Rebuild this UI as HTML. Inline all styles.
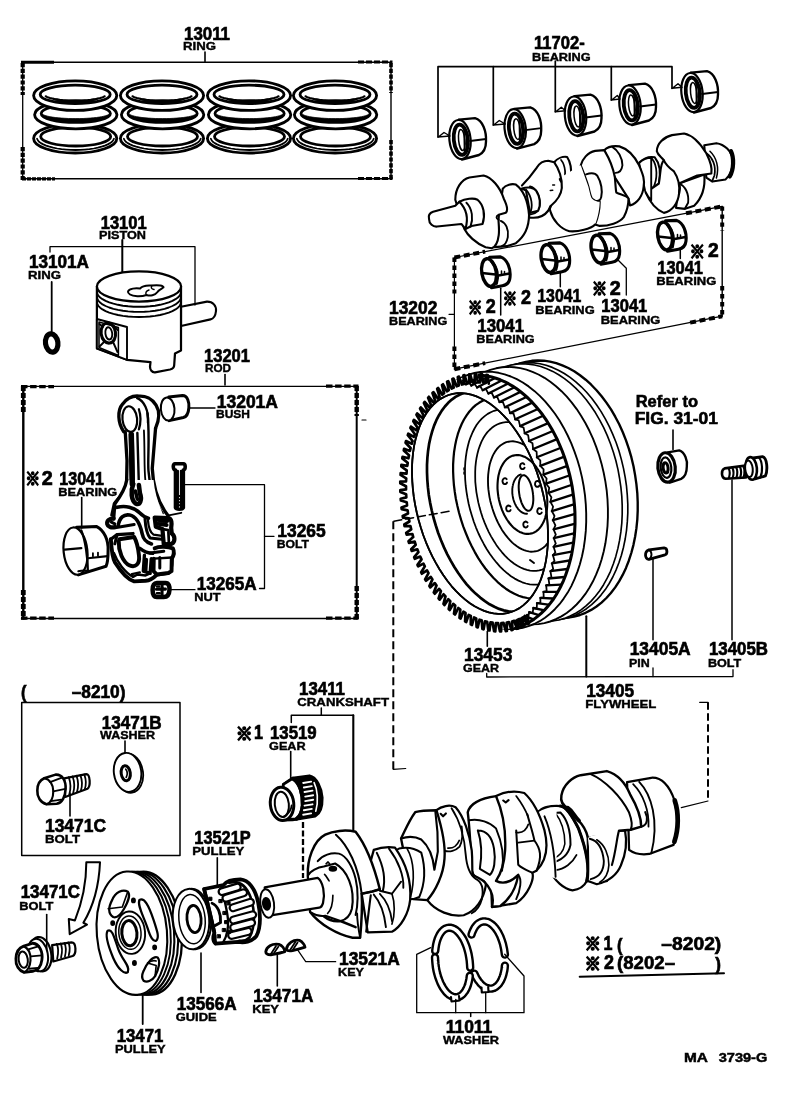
<!DOCTYPE html>
<html lang="en"><head><meta charset="utf-8"><title>Piston, Crankshaft &amp; Flywheel parts diagram</title>
<style>
html,body{margin:0;padding:0;background:#fff;}
body{width:792px;height:1106px;overflow:hidden;}
svg{display:block;filter:grayscale(1);}
svg text{font-family:"Liberation Sans", "Noto Sans CJK JP", sans-serif;font-weight:700;fill:#000;stroke:#000;stroke-width:0.35px;}
svg path,svg ellipse,svg line,svg circle,svg rect,svg polyline{stroke:#000;stroke-linecap:round;stroke-linejoin:round;vector-effect:non-scaling-stroke;}
</style></head><body>
<svg width="792" height="1106" viewBox="0 0 792 1106" fill="none">
<rect x="0" y="0" width="792" height="1106" fill="#fff" style="stroke:none"/>
<path d="M22.7 62.3 L391.0 62.3" stroke-width="1.5" />
<path d="M22.7 178.8 L391.0 178.8" stroke-width="1.4" />
<path d="M22.7 62.3 L22.7 178.8" stroke-width="1.3" />
<path d="M391.0 62.3 L391.0 178.8" stroke-width="1.4" />
<path d="M21.0 62.3 L54.0 62.3" stroke-width="3" style="stroke-linecap:butt"/>
<path d="M22.0 178.8 L55.0 178.8" stroke-width="3.2" stroke-dasharray="4 1" style="stroke-linecap:butt"/>
<path d="M358.0 62.0 L392.5 62.0" stroke-width="3" stroke-dasharray="6 2" style="stroke-linecap:butt"/>
<path d="M358.0 178.6 L392.5 178.6" stroke-width="3" stroke-dasharray="6 2" style="stroke-linecap:butt"/>
<path d="M22.7 63.0 L22.7 95.0" stroke-width="4.2" stroke-dasharray="4.2 1.6" style="stroke-linecap:butt"/>
<path d="M22.7 147.0 L22.7 180.0" stroke-width="4.2" stroke-dasharray="4.2 1.6" style="stroke-linecap:butt"/>
<path d="M391.0 63.0 L391.0 93.0" stroke-width="3.6" stroke-dasharray="4.2 1.6" style="stroke-linecap:butt"/>
<path d="M391.0 140.0 L391.0 179.0" stroke-width="3.6" stroke-dasharray="4.2 1.6" style="stroke-linecap:butt"/>
<path d="M33.6 138.4A41.6 14.6 0 1 0 116.8 138.4A41.6 14.6 0 1 0 33.6 138.4ZM40.7 136.6A35.0 9.4 0 1 0 110.7 136.6A35.0 9.4 0 1 0 40.7 136.6Z" stroke-width="2.83" fill="#fff" fill-rule="evenodd"/>
<path d="M114.0 138.7 L113.2 140.2 L112.0 141.7 L110.1 143.1 L107.7 144.4 L104.9 145.6 L101.6 146.7 L97.9 147.7 L93.8 148.5 L89.5 149.2 L84.9 149.6 L80.3 149.9 L75.5 150.0 L70.7 149.9 L66.1 149.6 L61.5 149.2 L57.2 148.5 L53.1 147.7 L49.4 146.7 L46.1 145.6 L43.3 144.4 L40.9 143.1 L39.0 141.7 L37.8 140.2 L37.0 138.7" stroke-width="1.77" fill="none" />
<path d="M34.6 114.8A41.2 14.0 0 1 0 117.0 114.8A41.2 14.0 0 1 0 34.6 114.8ZM41.2 113.4A34.6 9.0 0 1 0 110.4 113.4A34.6 9.0 0 1 0 41.2 113.4Z" stroke-width="2.83" fill="#fff" fill-rule="evenodd"/>
<path d="M108.3 115.5 L107.2 116.4 L105.7 117.3 L103.9 118.1 L101.7 118.9 L99.2 119.6 L96.4 120.2 L93.4 120.7 L90.1 121.2 L86.7 121.5 L83.1 121.8 L79.5 121.9 L75.8 122.0 L72.1 121.9 L68.5 121.8 L64.9 121.5 L61.5 121.2 L58.2 120.7 L55.2 120.2 L52.4 119.6 L49.9 118.9 L47.7 118.1 L45.9 117.3 L44.4 116.4 L43.3 115.5 L43.3 114.7 L44.4 115.2 L45.9 115.7 L47.7 116.2 L49.9 116.7 L52.4 117.1 L55.2 117.5 L58.2 117.8 L61.5 118.1 L64.9 118.3 L68.5 118.5 L72.1 118.6 L75.8 118.6 L79.5 118.6 L83.1 118.5 L86.7 118.3 L90.1 118.1 L93.4 117.8 L96.4 117.5 L99.2 117.1 L101.7 116.7 L103.9 116.2 L105.7 115.7 L107.2 115.2 L108.3 114.7Z" fill="#000" stroke-width="0.8"/>
<path d="M33.6 95.6A41.6 14.8 0 1 0 116.8 95.6A41.6 14.8 0 1 0 33.6 95.6ZM40.2 94.4A35.0 9.2 0 1 0 110.2 94.4A35.0 9.2 0 1 0 40.2 94.4Z" stroke-width="2.83" fill="#fff" fill-rule="evenodd"/>
<path d="M104.7 96.3 L103.5 96.9 L102.0 97.5 L100.3 98.0 L98.2 98.5 L95.9 99.0 L93.4 99.4 L90.7 99.8 L87.8 100.1 L84.8 100.3 L81.6 100.5 L78.4 100.6 L75.2 100.6 L72.0 100.6 L68.8 100.5 L65.6 100.3 L62.6 100.1 L59.7 99.8 L57.0 99.4 L54.5 99.0 L52.2 98.5 L50.1 98.0 L48.4 97.5 L46.9 96.9 L45.7 96.3" stroke-width="2.12" fill="none" />
<path d="M97.3 99.4 L96.0 100.0 L94.6 100.5 L93.0 100.9 L91.3 101.3 L89.5 101.7 L87.7 102.1 L85.7 102.3 L83.7 102.6 L81.6 102.8 L79.5 102.9 L77.4 103.0 L75.2 103.0 L73.0 103.0 L70.9 102.9 L68.8 102.8 L66.7 102.6 L64.7 102.3 L62.7 102.1 L60.9 101.7 L59.1 101.3 L57.4 100.9 L55.8 100.5 L54.4 100.0 L53.1 99.4 L53.1 98.2 L54.4 98.6 L55.8 98.9 L57.4 99.3 L59.1 99.6 L60.9 99.9 L62.7 100.1 L64.7 100.3 L66.7 100.5 L68.8 100.6 L70.9 100.7 L73.0 100.8 L75.2 100.8 L77.4 100.8 L79.5 100.7 L81.6 100.6 L83.7 100.5 L85.7 100.3 L87.7 100.1 L89.5 99.9 L91.3 99.6 L93.0 99.3 L94.6 98.9 L96.0 98.6 L97.3 98.2Z" fill="#000" stroke-width="0.8"/>
<path d="M120.4 138.4A41.6 14.6 0 1 0 203.6 138.4A41.6 14.6 0 1 0 120.4 138.4ZM127.5 136.6A35.0 9.4 0 1 0 197.5 136.6A35.0 9.4 0 1 0 127.5 136.6Z" stroke-width="2.83" fill="#fff" fill-rule="evenodd"/>
<path d="M200.8 138.7 L200.0 140.2 L198.8 141.7 L196.9 143.1 L194.5 144.4 L191.7 145.6 L188.4 146.7 L184.7 147.7 L180.6 148.5 L176.3 149.2 L171.7 149.6 L167.1 149.9 L162.3 150.0 L157.5 149.9 L152.9 149.6 L148.3 149.2 L144.0 148.5 L139.9 147.7 L136.2 146.7 L132.9 145.6 L130.1 144.4 L127.7 143.1 L125.8 141.7 L124.6 140.2 L123.8 138.7" stroke-width="1.77" fill="none" />
<path d="M121.4 114.8A41.2 14.0 0 1 0 203.8 114.8A41.2 14.0 0 1 0 121.4 114.8ZM128.0 113.4A34.6 9.0 0 1 0 197.2 113.4A34.6 9.0 0 1 0 128.0 113.4Z" stroke-width="2.83" fill="#fff" fill-rule="evenodd"/>
<path d="M195.1 115.5 L194.0 116.4 L192.5 117.3 L190.7 118.1 L188.5 118.9 L186.0 119.6 L183.2 120.2 L180.2 120.7 L176.9 121.2 L173.5 121.5 L169.9 121.8 L166.3 121.9 L162.6 122.0 L158.9 121.9 L155.3 121.8 L151.7 121.5 L148.3 121.2 L145.0 120.7 L142.0 120.2 L139.2 119.6 L136.7 118.9 L134.5 118.1 L132.7 117.3 L131.2 116.4 L130.1 115.5 L130.1 114.7 L131.2 115.2 L132.7 115.7 L134.5 116.2 L136.7 116.7 L139.2 117.1 L142.0 117.5 L145.0 117.8 L148.3 118.1 L151.7 118.3 L155.3 118.5 L158.9 118.6 L162.6 118.6 L166.3 118.6 L169.9 118.5 L173.5 118.3 L176.9 118.1 L180.2 117.8 L183.2 117.5 L186.0 117.1 L188.5 116.7 L190.7 116.2 L192.5 115.7 L194.0 115.2 L195.1 114.7Z" fill="#000" stroke-width="0.8"/>
<path d="M120.4 95.6A41.6 14.8 0 1 0 203.6 95.6A41.6 14.8 0 1 0 120.4 95.6ZM127.0 94.4A35.0 9.2 0 1 0 197.0 94.4A35.0 9.2 0 1 0 127.0 94.4Z" stroke-width="2.83" fill="#fff" fill-rule="evenodd"/>
<path d="M191.5 96.3 L190.3 96.9 L188.8 97.5 L187.1 98.0 L185.0 98.5 L182.7 99.0 L180.2 99.4 L177.5 99.8 L174.6 100.1 L171.6 100.3 L168.4 100.5 L165.2 100.6 L162.0 100.6 L158.8 100.6 L155.6 100.5 L152.4 100.3 L149.4 100.1 L146.5 99.8 L143.8 99.4 L141.3 99.0 L139.0 98.5 L136.9 98.0 L135.2 97.5 L133.7 96.9 L132.5 96.3" stroke-width="2.12" fill="none" />
<path d="M184.1 99.4 L182.8 100.0 L181.4 100.5 L179.8 100.9 L178.1 101.3 L176.3 101.7 L174.5 102.1 L172.5 102.3 L170.5 102.6 L168.4 102.8 L166.3 102.9 L164.2 103.0 L162.0 103.0 L159.8 103.0 L157.7 102.9 L155.6 102.8 L153.5 102.6 L151.5 102.3 L149.5 102.1 L147.7 101.7 L145.9 101.3 L144.2 100.9 L142.6 100.5 L141.2 100.0 L139.9 99.4 L139.9 98.2 L141.2 98.6 L142.6 98.9 L144.2 99.3 L145.9 99.6 L147.7 99.9 L149.5 100.1 L151.5 100.3 L153.5 100.5 L155.6 100.6 L157.7 100.7 L159.8 100.8 L162.0 100.8 L164.2 100.8 L166.3 100.7 L168.4 100.6 L170.5 100.5 L172.5 100.3 L174.5 100.1 L176.3 99.9 L178.1 99.6 L179.8 99.3 L181.4 98.9 L182.8 98.6 L184.1 98.2Z" fill="#000" stroke-width="0.8"/>
<path d="M207.4 138.4A41.6 14.6 0 1 0 290.6 138.4A41.6 14.6 0 1 0 207.4 138.4ZM214.5 136.6A35.0 9.4 0 1 0 284.5 136.6A35.0 9.4 0 1 0 214.5 136.6Z" stroke-width="2.83" fill="#fff" fill-rule="evenodd"/>
<path d="M287.8 138.7 L287.0 140.2 L285.8 141.7 L283.9 143.1 L281.5 144.4 L278.7 145.6 L275.4 146.7 L271.7 147.7 L267.6 148.5 L263.3 149.2 L258.7 149.6 L254.1 149.9 L249.3 150.0 L244.5 149.9 L239.9 149.6 L235.3 149.2 L231.0 148.5 L226.9 147.7 L223.2 146.7 L219.9 145.6 L217.1 144.4 L214.7 143.1 L212.8 141.7 L211.6 140.2 L210.8 138.7" stroke-width="1.77" fill="none" />
<path d="M208.4 114.8A41.2 14.0 0 1 0 290.8 114.8A41.2 14.0 0 1 0 208.4 114.8ZM215.0 113.4A34.6 9.0 0 1 0 284.2 113.4A34.6 9.0 0 1 0 215.0 113.4Z" stroke-width="2.83" fill="#fff" fill-rule="evenodd"/>
<path d="M282.1 115.5 L281.0 116.4 L279.5 117.3 L277.7 118.1 L275.5 118.9 L273.0 119.6 L270.2 120.2 L267.2 120.7 L263.9 121.2 L260.5 121.5 L256.9 121.8 L253.3 121.9 L249.6 122.0 L245.9 121.9 L242.3 121.8 L238.7 121.5 L235.3 121.2 L232.0 120.7 L229.0 120.2 L226.2 119.6 L223.7 118.9 L221.5 118.1 L219.7 117.3 L218.2 116.4 L217.1 115.5 L217.1 114.7 L218.2 115.2 L219.7 115.7 L221.5 116.2 L223.7 116.7 L226.2 117.1 L229.0 117.5 L232.0 117.8 L235.3 118.1 L238.7 118.3 L242.3 118.5 L245.9 118.6 L249.6 118.6 L253.3 118.6 L256.9 118.5 L260.5 118.3 L263.9 118.1 L267.2 117.8 L270.2 117.5 L273.0 117.1 L275.5 116.7 L277.7 116.2 L279.5 115.7 L281.0 115.2 L282.1 114.7Z" fill="#000" stroke-width="0.8"/>
<path d="M207.4 95.6A41.6 14.8 0 1 0 290.6 95.6A41.6 14.8 0 1 0 207.4 95.6ZM214.0 94.4A35.0 9.2 0 1 0 284.0 94.4A35.0 9.2 0 1 0 214.0 94.4Z" stroke-width="2.83" fill="#fff" fill-rule="evenodd"/>
<path d="M278.5 96.3 L277.3 96.9 L275.8 97.5 L274.1 98.0 L272.0 98.5 L269.7 99.0 L267.2 99.4 L264.5 99.8 L261.6 100.1 L258.6 100.3 L255.4 100.5 L252.2 100.6 L249.0 100.6 L245.8 100.6 L242.6 100.5 L239.4 100.3 L236.4 100.1 L233.5 99.8 L230.8 99.4 L228.3 99.0 L226.0 98.5 L223.9 98.0 L222.2 97.5 L220.7 96.9 L219.5 96.3" stroke-width="2.12" fill="none" />
<path d="M271.1 99.4 L269.8 100.0 L268.4 100.5 L266.8 100.9 L265.1 101.3 L263.3 101.7 L261.5 102.1 L259.5 102.3 L257.5 102.6 L255.4 102.8 L253.3 102.9 L251.2 103.0 L249.0 103.0 L246.8 103.0 L244.7 102.9 L242.6 102.8 L240.5 102.6 L238.5 102.3 L236.5 102.1 L234.7 101.7 L232.9 101.3 L231.2 100.9 L229.6 100.5 L228.2 100.0 L226.9 99.4 L226.9 98.2 L228.2 98.6 L229.6 98.9 L231.2 99.3 L232.9 99.6 L234.7 99.9 L236.5 100.1 L238.5 100.3 L240.5 100.5 L242.6 100.6 L244.7 100.7 L246.8 100.8 L249.0 100.8 L251.2 100.8 L253.3 100.7 L255.4 100.6 L257.5 100.5 L259.5 100.3 L261.5 100.1 L263.3 99.9 L265.1 99.6 L266.8 99.3 L268.4 98.9 L269.8 98.6 L271.1 98.2Z" fill="#000" stroke-width="0.8"/>
<path d="M293.4 138.4A41.6 14.6 0 1 0 376.6 138.4A41.6 14.6 0 1 0 293.4 138.4ZM300.5 136.6A35.0 9.4 0 1 0 370.5 136.6A35.0 9.4 0 1 0 300.5 136.6Z" stroke-width="2.83" fill="#fff" fill-rule="evenodd"/>
<path d="M373.8 138.7 L373.0 140.2 L371.8 141.7 L369.9 143.1 L367.5 144.4 L364.7 145.6 L361.4 146.7 L357.7 147.7 L353.6 148.5 L349.3 149.2 L344.7 149.6 L340.1 149.9 L335.3 150.0 L330.5 149.9 L325.9 149.6 L321.3 149.2 L317.0 148.5 L312.9 147.7 L309.2 146.7 L305.9 145.6 L303.1 144.4 L300.7 143.1 L298.8 141.7 L297.6 140.2 L296.8 138.7" stroke-width="1.77" fill="none" />
<path d="M294.4 114.8A41.2 14.0 0 1 0 376.8 114.8A41.2 14.0 0 1 0 294.4 114.8ZM301.0 113.4A34.6 9.0 0 1 0 370.2 113.4A34.6 9.0 0 1 0 301.0 113.4Z" stroke-width="2.83" fill="#fff" fill-rule="evenodd"/>
<path d="M368.1 115.5 L367.0 116.4 L365.5 117.3 L363.7 118.1 L361.5 118.9 L359.0 119.6 L356.2 120.2 L353.2 120.7 L349.9 121.2 L346.5 121.5 L342.9 121.8 L339.3 121.9 L335.6 122.0 L331.9 121.9 L328.3 121.8 L324.7 121.5 L321.3 121.2 L318.0 120.7 L315.0 120.2 L312.2 119.6 L309.7 118.9 L307.5 118.1 L305.7 117.3 L304.2 116.4 L303.1 115.5 L303.1 114.7 L304.2 115.2 L305.7 115.7 L307.5 116.2 L309.7 116.7 L312.2 117.1 L315.0 117.5 L318.0 117.8 L321.3 118.1 L324.7 118.3 L328.3 118.5 L331.9 118.6 L335.6 118.6 L339.3 118.6 L342.9 118.5 L346.5 118.3 L349.9 118.1 L353.2 117.8 L356.2 117.5 L359.0 117.1 L361.5 116.7 L363.7 116.2 L365.5 115.7 L367.0 115.2 L368.1 114.7Z" fill="#000" stroke-width="0.8"/>
<path d="M293.4 95.6A41.6 14.8 0 1 0 376.6 95.6A41.6 14.8 0 1 0 293.4 95.6ZM300.0 94.4A35.0 9.2 0 1 0 370.0 94.4A35.0 9.2 0 1 0 300.0 94.4Z" stroke-width="2.83" fill="#fff" fill-rule="evenodd"/>
<path d="M364.5 96.3 L363.3 96.9 L361.8 97.5 L360.1 98.0 L358.0 98.5 L355.7 99.0 L353.2 99.4 L350.5 99.8 L347.6 100.1 L344.6 100.3 L341.4 100.5 L338.2 100.6 L335.0 100.6 L331.8 100.6 L328.6 100.5 L325.4 100.3 L322.4 100.1 L319.5 99.8 L316.8 99.4 L314.3 99.0 L312.0 98.5 L309.9 98.0 L308.2 97.5 L306.7 96.9 L305.5 96.3" stroke-width="2.12" fill="none" />
<path d="M357.1 99.4 L355.8 100.0 L354.4 100.5 L352.8 100.9 L351.1 101.3 L349.3 101.7 L347.5 102.1 L345.5 102.3 L343.5 102.6 L341.4 102.8 L339.3 102.9 L337.2 103.0 L335.0 103.0 L332.8 103.0 L330.7 102.9 L328.6 102.8 L326.5 102.6 L324.5 102.3 L322.5 102.1 L320.7 101.7 L318.9 101.3 L317.2 100.9 L315.6 100.5 L314.2 100.0 L312.9 99.4 L312.9 98.2 L314.2 98.6 L315.6 98.9 L317.2 99.3 L318.9 99.6 L320.7 99.9 L322.5 100.1 L324.5 100.3 L326.5 100.5 L328.6 100.6 L330.7 100.7 L332.8 100.8 L335.0 100.8 L337.2 100.8 L339.3 100.7 L341.4 100.6 L343.5 100.5 L345.5 100.3 L347.5 100.1 L349.3 99.9 L351.1 99.6 L352.8 99.3 L354.4 98.9 L355.8 98.6 L357.1 98.2Z" fill="#000" stroke-width="0.8"/>
<ellipse cx="51.7" cy="343.0" rx="6.2" ry="9.2" stroke-width="5.19" fill="none" transform="rotate(-8 51.7 343.0)"/>
<path d="M181 306.7 L207 301.6 C213 301.5 216.5 306 216 311 C215.5 316 213.5 318.8 210.5 319.4 L181 326 Z" stroke-width="2.12" fill="#fff" />
<path d="M96.9 286.5 L96.9 348.4 L127 359.8 L150.5 362.2 L150 366.5 C150 370 152 372.6 155 372.3 L170 369.5 C173 368.8 174.2 367 174.2 365 L175 353.4 L181 350.5 L181 286.5 Z" stroke-width="2.24" fill="#fff" />
<ellipse cx="139.0" cy="286.5" rx="42.1" ry="15.1" stroke-width="2.24" fill="#fff"/>
<path d="M181.1 291.7 L180.7 293.7 L179.7 295.6 L177.9 297.5 L175.5 299.2 L172.4 300.9 L168.8 302.4 L164.6 303.7 L160.1 304.8 L155.1 305.7 L149.9 306.3 L144.5 306.7 L139.0 306.8 L133.5 306.7 L128.1 306.3 L122.9 305.7 L118.0 304.8 L113.4 303.7 L109.2 302.4 L105.6 300.9 L102.5 299.2 L100.1 297.5 L98.3 295.6 L97.3 293.7 L96.9 291.7" stroke-width="1.89" fill="none" />
<path d="M181.1 296.8 L180.7 298.8 L179.7 300.7 L177.9 302.6 L175.5 304.4 L172.4 306.0 L168.8 307.5 L164.6 308.8 L160.1 309.9 L155.1 310.8 L149.9 311.4 L144.5 311.8 L139.0 311.9 L133.5 311.8 L128.1 311.4 L122.9 310.8 L118.0 309.9 L113.4 308.8 L109.2 307.5 L105.6 306.0 L102.5 304.4 L100.1 302.6 L98.3 300.7 L97.3 298.8 L96.9 296.8" stroke-width="1.89" fill="none" />
<path d="M181.1 301.9 L180.7 303.9 L179.7 305.8 L177.9 307.7 L175.5 309.4 L172.4 311.1 L168.8 312.6 L164.6 313.9 L160.1 315.0 L155.1 315.9 L149.9 316.5 L144.5 316.9 L139.0 317.0 L133.5 316.9 L128.1 316.5 L122.9 315.9 L118.0 315.0 L113.4 313.9 L109.2 312.6 L105.6 311.1 L102.5 309.4 L100.1 307.7 L98.3 305.8 L97.3 303.9 L96.9 301.9" stroke-width="1.89" fill="none" />
<path d="M128 291.5 C129 288.5 136 287.8 140 288.6 C142 286 147 285.2 152 285.6 C158 285 164 285.5 163.5 287.5 C161 289 159 289.8 157.5 292 C155 295.5 150 296.2 146.5 295 C141 297 133 296.5 130 294.5 C128.5 293.6 127.8 292.5 128 291.5Z" stroke-width="2.01" fill="none" />
<path d="M146.5 295 C145 293 146 291 149 290 M152 285.6 C150.5 287.5 151.5 289 154 289.5" stroke-width="1.42" fill="none" />
<path d="M96.9 319 L127 327 L127 359.8 L96.9 348.4 Z" stroke-width="1.89" fill="#fff" />
<path d="M99 322 L118.4 327.5 L118.4 355.5 L99 347.5Z" stroke-width="1.53" fill="none" />
<ellipse cx="108.3" cy="333.0" rx="7.2" ry="10.2" stroke-width="3.07" fill="none" transform="rotate(-8 108.3 333.0)"/>
<ellipse cx="108.8" cy="333.4" rx="3.4" ry="6.2" stroke-width="1.89" fill="none" transform="rotate(-8 108.8 333.4)"/>
<path d="M99.5 346.5 L104 342 M99.5 324 L103 327 M117.5 352 L113.5 343 M117.8 330 L114 326" stroke-width="1.89" fill="none" />
<path d="M23.0 386.3 L356.7 386.3" stroke-width="1.3" />
<path d="M23.0 618.4 L356.7 618.4" stroke-width="1.5" />
<path d="M23.3 386.3 L23.3 618.4" stroke-width="2.4" />
<path d="M356.7 386.3 L356.7 618.4" stroke-width="2.0" />
<path d="M21.0 386.6 L54.0 386.6" stroke-width="3.2" stroke-dasharray="6.5 2.6" style="stroke-linecap:butt"/>
<path d="M21.0 618.2 L54.0 618.2" stroke-width="3.2" stroke-dasharray="6.5 2.6" style="stroke-linecap:butt"/>
<path d="M326.0 386.2 L358.5 386.2" stroke-width="3.2" stroke-dasharray="6.5 2.6" style="stroke-linecap:butt"/>
<path d="M326.0 618.2 L358.5 618.2" stroke-width="3.2" stroke-dasharray="6.5 2.6" style="stroke-linecap:butt"/>
<path d="M23.3 386.0 L23.3 412.0" stroke-width="4.8" stroke-dasharray="5 2" style="stroke-linecap:butt"/>
<path d="M23.3 590.0 L23.3 619.5" stroke-width="4.8" stroke-dasharray="5 2" style="stroke-linecap:butt"/>
<path d="M356.7 386.0 L356.7 416.0" stroke-width="4.4" stroke-dasharray="5 2" style="stroke-linecap:butt"/>
<path d="M356.7 586.0 L356.7 619.5" stroke-width="4.4" stroke-dasharray="5 2" style="stroke-linecap:butt"/>
<path d="M362.0 420.0 L366.0 420.0" stroke-width="1.2" />
<g transform="translate(50 385) scale(0.2525)">
<path d="M470 48 L525 42 C545 42 552 70 550 90 C548 115 540 126 528 129 L472 141 Z" stroke-width="3.02" fill="#fff" />
<ellipse cx="466" cy="95" rx="27" ry="46" stroke-width="2" fill="#fff" transform="rotate(-5 466 95)"/>
<path d="M298 185 L305 300 L303 400 C295 430 265 455 255 470 L245 520 L470 520 C430 470 408 400 405 330 L418 170 Z" stroke-width="0.1" fill="#fff" style="stroke:none"/>
<path d="M292 185 C268 150 266 100 288 75 C305 52 330 42 352 44 C378 42 405 55 420 80 C436 106 432 140 418 172" stroke-width="3.32" fill="#fff" />
<ellipse cx="316" cy="135" rx="29" ry="51" stroke-width="2.2" fill="#fff" transform="rotate(-6 316 135)"/>
<path d="M345 52 C372 62 392 100 388 150 M352 96 C360 120 360 150 352 176" stroke-width="2.27" fill="none" />
<path d="M298 185 L305 300 L303 400 C295 430 265 455 255 470 L245 515" stroke-width="3.32" fill="none" />
<path d="M418 172 L405 330 C408 400 430 470 468 518" stroke-width="3.32" fill="none" />
<path d="M322 196 L326 392" stroke-width="5.14" fill="none" />
<path d="M346 190 L352 396" stroke-width="2.42" fill="none" />
<path d="M386 112 C396 200 386 300 390 340 C395 420 420 470 446 508" stroke-width="2.42" fill="none" />
<path d="M372 180 C376 260 372 330 378 380 C384 430 400 470 420 500" stroke-width="1.81" fill="none" />
<path d="M494 312 L528 312 C538 312 538 336 528 337 L528 486 C524 494 500 494 497 486 L497 337 C486 336 486 312 494 312Z" stroke-width="3.62" fill="#fff" />
<path d="M506 340 L506 484 M519 340 L519 484" stroke-width="2.42" fill="none" />
<path d="M497 440 L528 440 M497 452 L528 452 M497 464 L528 464 M497 476 L528 476" stroke-width="1.96" fill="none" />
<path d="M520 506 L470 516" stroke-width="1.81" fill="none" />
</g>
<g transform="translate(100 480) scale(0.1139)">
<path d="M235 0 C225 60 190 130 130 210 L120 340 C70 340 55 400 95 430 L95 520 C100 620 115 700 135 730 C180 800 240 875 300 892 L400 886 C450 880 480 850 500 832 L600 816 C628 800 632 760 632 700 L640 600 L650 520 L625 340 L560 320 C520 220 480 120 470 0 Z" stroke-width="0.1" fill="#fff" style="stroke:none"/>
<path d="M235 0 C225 60 190 130 130 210 L120 340" stroke-width="3.32" fill="none" />
<path d="M120 340 C80 338 58 360 64 388 C70 412 100 424 132 412" stroke-width="4.23" fill="none" />
<path d="M100 370 L130 385" stroke-width="3.02" fill="none" />
<path d="M150 240 C220 222 300 238 350 290 C380 320 395 330 425 336" stroke-width="3.62" fill="none" />
<path d="M160 402 C170 330 210 298 260 308 C310 318 350 380 370 470 C380 520 400 545 452 562" stroke-width="3.62" fill="none" />
<path d="M132 420 L300 390" stroke-width="3.02" fill="none" />
<path d="M395 340 C400 420 415 480 440 510 L540 520" stroke-width="3.02" fill="none" />
<path d="M420 345 C425 410 440 460 470 480 L545 490" stroke-width="2.27" fill="none" />
<path d="M95 520 C100 600 112 690 132 724 C180 800 240 872 300 890 L400 885 C450 880 480 850 500 830 L600 815 C626 800 630 760 630 700 L636 610" stroke-width="3.93" fill="none" />
<path d="M95 520 L150 480 L290 470" stroke-width="3.32" fill="none" />
<path d="M150 480 L130 560" stroke-width="3.02" fill="none" />
<path d="M165 540 C160 620 200 722 260 750 C310 770 352 742 342 660 C336 600 322 540 300 500 L170 520 Z" stroke-width="3.93" fill="#fff" />
<path d="M122 640 C150 720 220 812 290 850 L330 830 L400 838 L440 820" stroke-width="2.42" fill="none" />
<path d="M290 850 L280 826 L350 812" stroke-width="2.27" fill="none" />
<path d="M350 600 C400 640 450 650 500 640 L600 600" stroke-width="3.32" fill="none" />
<path d="M390 660 L380 800 L440 820 L450 690" stroke-width="3.32" fill="none" />
<path d="M405 700 L400 790" stroke-width="3.93" fill="none" />
<path d="M480 330 L600 335 C630 340 632 380 625 420 L630 470 C660 490 662 540 630 560 L560 565 L548 430 L490 410 Z" stroke-width="4.23" fill="#fff" />
<path d="M500 350 L590 360 M510 385 L585 395" stroke-width="3.93" fill="none" />
<path d="M548 430 L600 440 L605 560" stroke-width="2.72" fill="none" />
<path d="M480 600 C520 580 600 585 640 600 C655 630 650 660 630 690 L628 800 L600 816 L500 830 L470 800 L472 690" stroke-width="3.93" fill="#fff" />
<path d="M472 690 L630 680" stroke-width="2.42" fill="none" />
<path d="M525 680 L525 772" stroke-width="3.02" fill="none" />
<path d="M440 640 L560 625" stroke-width="3.02" fill="none" />
<path d="M500 905 L575 905 C605 905 612 935 610 965 C608 1000 595 1028 560 1028 L500 1028 C470 1026 462 995 462 965 C462 930 472 906 500 905Z" stroke-width="4.53" fill="#fff" />
<path d="M545 915 L545 1020 M495 960 L575 958" stroke-width="3.02" fill="none" />
<path d="M500 935 L520 935 M500 995 L525 995" stroke-width="2.42" fill="none" />
</g>
<g transform="translate(50 385) scale(0.2525)">
<path d="M330 392 C318 420 322 458 340 470 C356 476 366 456 356 428 L352 396" stroke-width="4.53" fill="#fff" />
<path d="M338 420 L346 452" stroke-width="3.62" fill="none" />
<path d="M322 196 L326 392" stroke-width="5.44" fill="none" />
</g>
<g transform="translate(50 490) scale(0.2525)">
<path d="M105 148 L185 145 C215 160 232 200 230 240 C230 270 228 290 222 302 L112 336 Z" stroke-width="3.02" fill="#fff" />
<ellipse cx="101" cy="242" rx="47" ry="94" stroke-width="2.2" fill="#fff" transform="rotate(-6 101 242)"/>
<path d="M58 236 L124 230" stroke-width="2.27" fill="none" />
<path d="M124 160 C140 200 150 270 150 322" stroke-width="2.27" fill="none" />
<path d="M150 270 L228 262" stroke-width="2.11" fill="none" />
<path d="M170 262 L170 250 M190 260 L190 248" stroke-width="1.81" fill="none" />
<path d="M112 322 C130 318 145 318 152 324" stroke-width="1.96" fill="none" />
</g>
<g transform="translate(520 760) scale(0.20202)">
<path d="M530 110 L650 88 C700 85 740 130 765 200 C785 280 780 360 760 420 L640 465 C600 470 560 460 540 445 Z" stroke-width="2.24" fill="#fff" />
<path d="M766 200 C786 260 786 340 764 405" stroke-width="4.72" fill="none" />
<path d="M590 108 C650 170 690 300 650 462" stroke-width="1.89" fill="none" />
<path d="M560 120 C610 170 640 250 636 330" stroke-width="1.77" fill="none" />
<path d="M100 250 C110 235 150 225 200 228 C230 230 260 280 290 340 C320 420 350 520 330 600 C320 620 300 640 260 645 C220 640 170 600 145 540 L150 510 C150 400 130 300 100 250Z" stroke-width="2.24" fill="#fff" />
<path d="M200 228 C230 230 260 280 290 340 C320 420 350 520 330 600" stroke-width="3.07" fill="none" />
<path d="M130 265 L200 260 C230 290 250 350 250 420 C240 470 200 500 150 510" stroke-width="2.01" fill="none" />
<path d="M175 262 C205 300 222 360 222 415 C215 455 190 480 160 490" stroke-width="1.53" fill="none" />
<path d="M175 545 C220 540 260 510 280 470" stroke-width="1.77" fill="none" />
<path d="M335 380 C380 370 420 400 440 460 C460 520 450 570 430 600 L340 600 Z" stroke-width="2.24" fill="#fff" />
<path d="M490 350 L520 350 C530 400 530 450 500 520 C480 570 440 600 380 615 L340 600 C350 520 345 440 335 380 L490 350Z" stroke-width="0.1" fill="#fff" style="stroke:none"/>
<path d="M490 350 L520 350 C530 400 530 450 500 520 C480 570 440 600 380 615 L340 600" stroke-width="2.24" fill="none" />
<path d="M345 390 C390 400 410 450 415 500 C415 550 390 580 350 590" stroke-width="1.89" fill="none" />
<path d="M380 395 C420 420 440 470 440 520 C438 560 420 590 395 605" stroke-width="1.65" fill="none" />
<path d="M490 350 C480 380 475 450 455 520" stroke-width="2.12" fill="none" />
<path d="M205 175 C215 120 260 85 300 75 L430 55 C480 70 520 110 545 170 C580 230 600 290 600 330 L548 345 L490 350 L335 380 C330 360 320 330 290 300 C260 280 260 260 240 240 C210 225 200 200 205 175Z" stroke-width="0.1" fill="#fff" style="stroke:none"/>
<path d="M490 350 L548 345 L600 330 C600 290 580 230 545 170 C520 110 480 70 430 55 L300 75 C260 85 215 120 205 175 C200 200 210 225 240 240 C260 260 260 280 290 300 C320 330 330 360 335 380" stroke-width="2.48" fill="none" />
<path d="M350 70 C420 100 500 180 540 260 C555 300 555 330 548 345" stroke-width="2.01" fill="none" />
<path d="M600 330 C636 322 632 282 620 258" stroke-width="2.12" fill="none" />
<path d="M236 236 C262 252 268 278 292 300" stroke-width="3.78" fill="none" />
</g>
<g transform="translate(395 790) scale(0.20202)">
<path d="M700 110 C740 85 770 78 800 80 L800 440 C770 430 720 420 690 410 Z" stroke-width="0.1" fill="#fff" style="stroke:none"/>
<path d="M700 110 C740 85 770 78 800 80" stroke-width="1.89" fill="none" />
<path d="M740 130 C770 200 790 300 795 430" stroke-width="1.89" fill="none" />
<path d="M500 30 C540 10 590 0 640 15 C690 60 720 130 740 200 C760 280 750 350 700 400 L680 410 C690 440 660 520 600 560 L480 580 L470 300 Z" stroke-width="2.24" fill="#fff" />
<path d="M655 120 C665 160 680 200 690 250 C720 290 730 330 700 400" stroke-width="2.01" fill="none" />
<path d="M600 30 C630 70 650 110 658 130" stroke-width="1.77" fill="none" />
<path d="M600 200 L610 370 C630 390 660 400 680 410" stroke-width="2.01" fill="none" />
<path d="M600 210 C630 215 650 200 660 170 M610 260 L690 250" stroke-width="1.77" fill="none" />
<path d="M610 420 C630 440 620 500 600 540" stroke-width="1.89" fill="none" />
<path d="M360 110 C370 70 420 40 500 30 C530 100 550 200 545 300 C540 380 520 420 500 450 C540 470 580 450 610 420 C600 480 570 540 520 575 L480 578 C490 540 488 500 440 452 C400 440 385 420 380 400 C376 330 372 200 360 110Z" stroke-width="2.36" fill="#fff" />
<path d="M365 150 C420 140 470 160 500 190 C530 260 540 340 530 400" stroke-width="1.89" fill="none" />
<path d="M410 200 C450 200 480 230 490 290 C500 350 490 400 470 420 L420 390 C430 330 430 260 410 200" stroke-width="2.01" fill="none" />
<path d="M536 52 L548 62 L562 50" stroke-width="2.12" fill="none" />
<path d="M205 100 C230 80 270 70 300 85 C340 130 370 220 380 300 C385 360 380 400 385 420 C420 440 450 450 450 470 C440 540 400 600 340 620 C280 630 200 600 160 545 L200 300 Z" stroke-width="2.24" fill="#fff" />
<path d="M280 90 C320 150 345 240 350 320 C355 380 370 420 400 440 C430 455 440 490 430 540 C420 580 400 600 380 610" stroke-width="1.89" fill="none" />
<path d="M245 300 C270 310 300 300 320 280 C335 250 335 210 330 180 M262 288 C290 290 310 270 318 250" stroke-width="1.77" fill="none" />
<path d="M100 110 C130 100 170 100 205 100 C230 180 250 280 245 340 C240 420 200 500 160 545 L90 540 L30 240 C50 200 70 150 100 110Z" stroke-width="2.36" fill="#fff" />
<path d="M30 240 C60 230 100 230 130 245 C170 280 190 340 195 395 L212 305 C214 220 206 150 200 108" stroke-width="2.12" fill="none" />
<path d="M226 118 L238 130 L252 116" stroke-width="2.12" fill="none" />
<path d="M20 290 C60 280 100 290 130 310 C150 380 150 460 120 530 L90 540 L0 545 L0 300 Z" stroke-width="2.01" fill="#fff" />
<path d="M60 290 C95 350 100 450 75 535" stroke-width="1.65" fill="none" />
<path d="M0 320 C40 340 60 420 50 520" stroke-width="1.89" fill="none" />
</g>
<g transform="translate(295 815) scale(0.15152)">
<path d="M520 230 C560 215 620 210 660 215 C720 300 770 420 760 560 C750 650 700 740 640 770 L480 775 L440 520 Z" stroke-width="2.24" fill="#fff" />
<path d="M620 222 C680 300 720 400 715 480" stroke-width="1.89" fill="none" />
<path d="M540 250 C580 330 600 420 580 500" stroke-width="2.01" fill="none" />
<path d="M700 440 L640 520 L560 500" stroke-width="1.89" fill="none" />
<path d="M500 530 C490 600 480 700 470 770" stroke-width="2.12" fill="none" />
<path d="M520 525 C560 570 590 650 600 740" stroke-width="1.89" fill="none" />
<path d="M560 520 C600 560 630 620 640 700" stroke-width="1.77" fill="none" />
<path d="M640 520 C660 580 660 660 640 720" stroke-width="1.65" fill="none" />
<path d="M85 395 C80 300 120 170 200 130 C250 105 330 95 400 110 C470 200 520 330 560 490 L510 505 L440 520 C445 600 440 700 430 810 L380 810 C280 790 160 720 100 640 Z" stroke-width="2.48" fill="#fff" />
<path d="M270 130 C350 200 420 340 440 520" stroke-width="2.01" fill="none" />
<path d="M440 520 L510 505 L560 490" stroke-width="1.89" fill="none" />
<path d="M150 305 C180 265 240 245 290 255 C340 270 380 340 400 420 C420 500 415 600 400 660" stroke-width="2.01" fill="none" />
<path d="M410 650 C410 700 420 760 430 810" stroke-width="1.89" fill="none" />
<path d="M190 668 C230 700 260 706 300 700 L400 740" stroke-width="2.6" fill="none" />
<path d="M85 400 C100 370 150 345 190 340 L265 320 C340 360 400 480 375 620 C365 660 340 690 300 700 L200 665 C170 670 130 660 100 640 Z" stroke-width="2.12" fill="#fff" />
<path d="M225 435 C215 420 205 400 195 392 M250 530 C250 580 235 630 215 650" stroke-width="1.65" fill="none" />
<ellipse cx="250" cy="355" rx="20" ry="11" stroke-width="2.6" fill="#000"/>
<path d="M205 322 L218 310 L228 322" stroke-width="1.65" fill="none" />
<path d="M-200 478 L150 415 C185 440 200 520 185 580 C180 600 170 610 160 612 L-190 668 Z" stroke-width="2.24" fill="#fff" />
</g>
<ellipse cx="267.2" cy="903.5" rx="6.8" ry="14.3" stroke-width="1.9" fill="#fff" transform="rotate(-8 267.2 903.5)"/>
<ellipse cx="266.5" cy="903.8" rx="3.2" ry="5.6" stroke-width="2.6" fill="#000" transform="rotate(-8 266.5 903.8)"/>
<g transform="translate(10 740) scale(0.22784)">
<ellipse cx="524" cy="146" rx="60" ry="86" stroke-width="1.8" fill="#fff" transform="rotate(-8 524 146)"/>
<ellipse cx="516" cy="142" rx="60" ry="86" stroke-width="1.9" fill="#fff" transform="rotate(-8 516 142)"/>
<ellipse cx="508" cy="146" rx="20" ry="33" stroke-width="3" fill="#fff" transform="rotate(-8 508 146)"/>
<path d="M508 128 C516 138 516 152 510 164" stroke-width="1.65" fill="none" />
<path d="M238 168 L335 150 C352 150 355 205 340 214 L242 250 Z" stroke-width="2.24" fill="#fff" />
<path d="M258 163 C266 186 266 220 260 240" stroke-width="1.77" fill="none" />
<path d="M275 160 C283 183 283 214 277 234" stroke-width="1.77" fill="none" />
<path d="M292 157 C300 180 300 209 294 228" stroke-width="1.77" fill="none" />
<path d="M309 154 C317 176 317 204 311 222" stroke-width="1.77" fill="none" />
<path d="M326 151 C334 173 334 199 328 216" stroke-width="1.77" fill="none" />
<path d="M150 168 L200 152 C230 150 246 180 244 215 C243 250 228 276 205 280 L160 282 C135 275 118 250 120 222 C120 196 132 176 150 168Z" stroke-width="2.6" fill="#fff" />
<path d="M150 168 C175 172 190 195 190 225 C190 255 178 276 160 282" stroke-width="2.12" fill="none" />
<path d="M190 225 L243 215 M176 185 L228 165 M180 268 L225 262" stroke-width="1.77" fill="none" />
<path d="M335 537 L395 537 C390 650 360 740 322 802 L338 810 L262 852 L258 786 L285 792 C310 730 335 640 335 537Z" stroke-width="2.01" fill="#fff" />
<path d="M185 900 L270 888 C292 888 292 940 275 948 L190 972 Z" stroke-width="2.24" fill="#fff" />
<path d="M205 895 C213 912 213 935 207 960" stroke-width="1.77" fill="none" />
<path d="M222 893 C230 909 230 931 224 955" stroke-width="1.77" fill="none" />
<path d="M239 891 C247 907 247 926 241 950" stroke-width="1.77" fill="none" />
<path d="M256 888 C264 904 264 922 258 945" stroke-width="1.77" fill="none" />
<ellipse cx="135" cy="940" rx="46" ry="76" stroke-width="2.2" fill="#fff" transform="rotate(-10 135 940)"/>
<ellipse cx="122" cy="944" rx="44" ry="72" stroke-width="2" fill="#fff" transform="rotate(-10 122 944)"/>
<path d="M60 905 L100 892 C130 895 145 930 140 965 C136 995 120 1012 100 1015 L62 1020 C40 1012 24 990 26 960 C27 930 40 912 60 905Z" stroke-width="2.83" fill="#fff" />
<path d="M60 905 C82 915 92 940 90 968 C88 995 78 1012 62 1020" stroke-width="2.12" fill="none" />
<ellipse cx="58" cy="964" rx="20" ry="36" stroke-width="2" fill="none" transform="rotate(-8 58 964)"/>
<path d="M92 950 L140 945 M84 918 L128 905 M84 1004 L122 1000" stroke-width="1.77" fill="none" />
</g>
<g transform="translate(90 862) scale(0.2525)">
<ellipse cx="225" cy="282" rx="138" ry="244" stroke-width="2.3" fill="#fff" transform="rotate(-5 225 282)"/>
<ellipse cx="210" cy="282" rx="138" ry="244" stroke-width="2.1" fill="#fff" transform="rotate(-5 210 282)"/>
<ellipse cx="195" cy="282" rx="138" ry="244" stroke-width="2.1" fill="#fff" transform="rotate(-5 195 282)"/>
<ellipse cx="181" cy="282" rx="138" ry="244" stroke-width="1.9" fill="#fff" transform="rotate(-5 181 282)"/>
<ellipse cx="166" cy="282" rx="139" ry="245" stroke-width="2.1" fill="#fff" transform="rotate(-5 166 282)"/>
<ellipse cx="160" cy="280" rx="58" ry="84" stroke-width="1.9" fill="none" transform="rotate(-5 160 280)"/>
<ellipse cx="158" cy="280" rx="44" ry="66" stroke-width="1.5" fill="none" transform="rotate(-5 158 280)"/>
<ellipse cx="156" cy="282" rx="30" ry="50" stroke-width="3" fill="none" transform="rotate(-5 156 282)"/>
<path d="M88 150 C100 120 130 105 150 118 C160 130 150 160 135 185 C122 208 105 222 92 218 C72 205 72 180 88 150Z" stroke-width="2.24" fill="none" />
<path d="M72 185 L128 178 L148 122" stroke-width="1.65" fill="none" />
<path d="M212 432 C225 400 250 370 268 378 C280 392 272 425 258 452 C245 472 225 478 212 470 C204 460 206 445 212 432Z" stroke-width="2.24" fill="none" />
<path d="M228 400 L262 410 L258 452 M228 400 C240 392 252 388 262 392" stroke-width="1.65" fill="none" />
<path d="M196 150 C215 140 232 170 252 230 C268 278 275 300 262 312 C250 316 240 300 228 262 C212 215 186 170 196 150Z" stroke-width="2.24" fill="none" />
<path d="M70 272 C88 262 96 300 112 345 C128 390 160 412 150 436 C136 446 112 425 92 380 C76 342 58 290 70 272Z" stroke-width="2.24" fill="none" />
<ellipse cx="172" cy="152" rx="5" ry="7" stroke-width="2.4" fill="#000"/>
<ellipse cx="90" cy="242" rx="5" ry="7" stroke-width="2.4" fill="#000"/>
<ellipse cx="256" cy="338" rx="5" ry="7" stroke-width="2.4" fill="#000"/>
<ellipse cx="176" cy="400" rx="5" ry="7" stroke-width="2.4" fill="#000"/>
<ellipse cx="408" cy="226" rx="72" ry="120" stroke-width="2" fill="#fff" transform="rotate(-5 408 226)"/>
<ellipse cx="400" cy="226" rx="72" ry="120" stroke-width="2" fill="#fff" transform="rotate(-5 400 226)"/>
<ellipse cx="404" cy="226" rx="52" ry="98" stroke-width="1.5" fill="none" transform="rotate(-5 404 226)"/>
<ellipse cx="412" cy="226" rx="28" ry="54" stroke-width="2.8" fill="none" transform="rotate(-5 412 226)"/>
</g>
<g transform="translate(195 868) scale(0.11364)">
<path d="M80 185 L250 150 C280 110 330 100 400 100 C470 105 530 180 555 300 C580 420 575 530 540 600 C500 650 430 660 380 650 L180 665 C150 640 160 600 170 570 Z" stroke-width="3.78" fill="#fff" />
<path d="M300 130 C380 110 450 150 490 260 C530 380 530 520 480 610 C450 640 420 645 390 640" stroke-width="2.6" fill="none" />
<path d="M80 185 C110 300 140 420 170 560 L180 665" stroke-width="3.3" fill="none" />
<path d="M150 310 C200 330 230 400 225 480 L170 510" stroke-width="2.83" fill="none" />
<path d="M230 160 C250 250 280 350 290 450 C295 530 280 600 250 650" stroke-width="2.36" fill="none" />
<path d="M238 208 L372 168" style="stroke-width:9px"/>
<path d="M238 208 L372 168" style="stroke:#fff;stroke-width:4.6px"/>
<path d="M272 266 L428 218" style="stroke-width:9px"/>
<path d="M272 266 L428 218" style="stroke:#fff;stroke-width:4.6px"/>
<path d="M335 350 L488 302" style="stroke-width:9px"/>
<path d="M335 350 L488 302" style="stroke:#fff;stroke-width:4.6px"/>
<path d="M338 458 L508 412" style="stroke-width:9px"/>
<path d="M338 458 L508 412" style="stroke:#fff;stroke-width:4.6px"/>
<path d="M340 524 L498 482" style="stroke-width:9px"/>
<path d="M340 524 L498 482" style="stroke:#fff;stroke-width:4.6px"/>
<path d="M322 594 L468 558" style="stroke-width:9px"/>
<path d="M322 594 L468 558" style="stroke:#fff;stroke-width:4.6px"/>
<rect x="123" y="257" width="26" height="28" fill="#000" stroke-width="1"/>
<rect x="213" y="277" width="26" height="28" fill="#000" stroke-width="1"/>
<rect x="248" y="382" width="26" height="28" fill="#000" stroke-width="1"/>
<rect x="263" y="462" width="26" height="28" fill="#000" stroke-width="1"/>
<rect x="243" y="532" width="26" height="28" fill="#000" stroke-width="1"/>
<rect x="198" y="587" width="26" height="28" fill="#000" stroke-width="1"/>
<rect x="283" y="297" width="26" height="28" fill="#000" stroke-width="1"/>
<rect x="288" y="547" width="26" height="28" fill="#000" stroke-width="1"/>
</g>
<path d="M459.0 119.7 L475.0 118.2 C483.0 120.5 486.5 131.5 486.0 141.5 C486.0 149.5 483.0 153.0 479.0 155.0 L462.0 159.5 Z" stroke-width="2.36" fill="#fff" />
<ellipse cx="460.0" cy="139.5" rx="10.6" ry="19.6" stroke-width="2.2" fill="#fff" transform="rotate(-6 460.0 139.5)"/>
<ellipse cx="460.8" cy="139.7" rx="7.0" ry="15.2" stroke-width="3.8" fill="#fff" transform="rotate(-6 460.8 139.7)"/>
<ellipse cx="461.8" cy="140.0" rx="3.2" ry="10.5" stroke-width="1.5" fill="none" transform="rotate(-6 461.8 140.0)"/>
<path d="M470.0 141.0 L486.0 139.0" stroke-width="1.77" fill="none" />
<path d="M464.0 127.5 L464.5 151.5" stroke-width="1.53" fill="none" />
<path d="M438.0 137.0 L450.0 136.0 M439.0 136.5 L444.0 132.5 L450.0 136.0" stroke-width="1.42" fill="none" />
<path d="M514.2 108.8 L530.2 107.3 C538.2 109.6 541.7 120.6 541.2 130.6 C541.2 138.6 538.2 142.1 534.2 144.1 L517.2 148.6 Z" stroke-width="2.36" fill="#fff" />
<ellipse cx="515.2" cy="128.6" rx="10.6" ry="19.6" stroke-width="2.2" fill="#fff" transform="rotate(-6 515.2 128.6)"/>
<ellipse cx="516.0" cy="128.8" rx="7.0" ry="15.2" stroke-width="3.8" fill="#fff" transform="rotate(-6 516.0 128.8)"/>
<ellipse cx="517.0" cy="129.1" rx="3.2" ry="10.5" stroke-width="1.5" fill="none" transform="rotate(-6 517.0 129.1)"/>
<path d="M525.2 130.1 L541.2 128.1" stroke-width="1.77" fill="none" />
<path d="M519.2 116.6 L519.7 140.6" stroke-width="1.53" fill="none" />
<path d="M493.3 125.0 L505.2 124.0 M494.3 124.5 L499.3 120.5 L505.2 124.0" stroke-width="1.42" fill="none" />
<path d="M574.5 96.2 L590.5 94.7 C598.5 97.0 602.0 108.0 601.5 118.0 C601.5 126.0 598.5 129.5 594.5 131.5 L577.5 136.0 Z" stroke-width="2.36" fill="#fff" />
<ellipse cx="575.5" cy="116.0" rx="10.6" ry="19.6" stroke-width="2.2" fill="#fff" transform="rotate(-6 575.5 116.0)"/>
<ellipse cx="576.3" cy="116.2" rx="7.0" ry="15.2" stroke-width="3.8" fill="#fff" transform="rotate(-6 576.3 116.2)"/>
<ellipse cx="577.3" cy="116.5" rx="3.2" ry="10.5" stroke-width="1.5" fill="none" transform="rotate(-6 577.3 116.5)"/>
<path d="M585.5 117.5 L601.5 115.5" stroke-width="1.77" fill="none" />
<path d="M579.5 104.0 L580.0 128.0" stroke-width="1.53" fill="none" />
<path d="M555.3 111.7 L565.5 110.7 M556.3 111.2 L561.3 107.2 L565.5 110.7" stroke-width="1.42" fill="none" />
<path d="M629.0 85.2 L645.0 83.7 C653.0 86.0 656.5 97.0 656.0 107.0 C656.0 115.0 653.0 118.5 649.0 120.5 L632.0 125.0 Z" stroke-width="2.36" fill="#fff" />
<ellipse cx="630.0" cy="105.0" rx="10.6" ry="19.6" stroke-width="2.2" fill="#fff" transform="rotate(-6 630.0 105.0)"/>
<ellipse cx="630.8" cy="105.2" rx="7.0" ry="15.2" stroke-width="3.8" fill="#fff" transform="rotate(-6 630.8 105.2)"/>
<ellipse cx="631.8" cy="105.5" rx="3.2" ry="10.5" stroke-width="1.5" fill="none" transform="rotate(-6 631.8 105.5)"/>
<path d="M640.0 106.5 L656.0 104.5" stroke-width="1.77" fill="none" />
<path d="M634.0 93.0 L634.5 117.0" stroke-width="1.53" fill="none" />
<path d="M611.3 100.0 L620.0 99.0 M612.3 99.5 L617.3 95.5 L620.0 99.0" stroke-width="1.42" fill="none" />
<path d="M691.0 72.7 L707.0 71.2 C715.0 73.5 718.5 84.5 718.0 94.5 C718.0 102.5 715.0 106.0 711.0 108.0 L694.0 112.5 Z" stroke-width="2.36" fill="#fff" />
<ellipse cx="692.0" cy="92.5" rx="10.6" ry="19.6" stroke-width="2.2" fill="#fff" transform="rotate(-6 692.0 92.5)"/>
<ellipse cx="692.8" cy="92.7" rx="7.0" ry="15.2" stroke-width="3.8" fill="#fff" transform="rotate(-6 692.8 92.7)"/>
<ellipse cx="693.8" cy="93.0" rx="3.2" ry="10.5" stroke-width="1.5" fill="none" transform="rotate(-6 693.8 93.0)"/>
<path d="M702.0 94.0 L718.0 92.0" stroke-width="1.77" fill="none" />
<path d="M696.0 80.5 L696.5 104.5" stroke-width="1.53" fill="none" />
<path d="M672.0 88.3 L682.0 87.3 M673.0 87.8 L678.0 83.8 L682.0 87.3" stroke-width="1.42" fill="none" />
<g transform="translate(575 125) scale(0.20202)">
<path d="M640 100 L700 90 C740 95 775 130 780 170 C785 210 770 250 745 270 L680 280 L650 260 Z" stroke-width="2.12" fill="#fff" />
<path d="M772 130 C787 160 787 220 766 255" stroke-width="4.25" fill="none" />
<path d="M650 140 C680 160 700 200 690 250 L680 275" stroke-width="1.77" fill="none" />
<path d="M668 130 C700 160 715 210 700 262" stroke-width="1.53" fill="none" />
<path d="M640 245 C645 300 630 360 590 400 L545 415 L500 410 L515 290 Z" stroke-width="2.12" fill="#fff" />
<path d="M515 290 C545 300 565 340 560 385 L545 412" stroke-width="1.89" fill="none" />
<path d="M320 185 C340 165 370 155 395 160 C420 190 425 240 415 290 L370 320 L345 310 Z" stroke-width="2.12" fill="#fff" />
<path d="M380 165 C410 200 410 270 385 315" stroke-width="1.77" fill="none" />
<path d="M405 130 C405 90 440 60 480 50 L540 42 C580 50 620 90 650 140 C670 180 680 215 675 240 L640 245 L605 250 L515 290 C520 300 520 320 515 340 C510 390 480 425 440 435 C400 420 370 380 350 335 L415 290 C425 240 420 190 440 175 C430 160 410 150 405 130Z" stroke-width="2.12" fill="#fff" />
<path d="M440 175 C450 200 470 215 490 230 C510 260 520 300 515 340" stroke-width="2.12" fill="none" />
</g>
<g transform="translate(530 135) scale(0.15152)">
<path d="M720 185 C740 165 770 150 800 150 L800 430 C780 410 770 390 760 370 Z" stroke-width="1.89" fill="#fff" />
<path d="M490 100 C510 80 550 70 590 75 C640 90 690 140 720 200 C740 250 760 290 750 340 C745 400 710 450 660 465 L650 420 L560 280 Z" stroke-width="2.12" fill="#fff" />
<path d="M545 80 C580 100 610 150 610 200 C605 235 590 250 565 250" stroke-width="1.89" fill="none" />
<path d="M335 200 C345 160 380 115 430 105 L490 100 C520 150 550 220 560 280 C565 330 565 360 570 380 C600 395 640 400 650 420 C650 460 640 500 620 540 C590 580 520 600 460 600 L430 590 C450 540 460 480 460 440 C445 440 425 435 410 420 C400 410 395 380 385 340 C370 290 350 240 335 200Z" stroke-width="2.12" fill="#fff" />
<path d="M370 260 C400 250 430 250 445 270 C470 310 480 370 470 410 C465 430 450 440 435 435" stroke-width="2.01" fill="none" />
<path d="M160 180 C180 155 215 140 245 145 C265 175 275 230 270 280 C265 310 245 325 220 328 L200 300 Z" stroke-width="2.12" fill="#fff" />
<path d="M205 165 C235 200 240 270 222 325" stroke-width="1.77" fill="none" />
<path d="M-53 334 C-20 300 20 250 45 215 C60 190 90 170 120 170 L160 180 C190 220 215 290 210 350 C205 400 170 440 140 465 C130 480 130 495 135 505 C150 560 200 620 260 635 C320 640 400 620 430 590 C450 540 460 480 460 440 C445 440 425 435 410 420 C400 410 395 380 385 340 L335 200 L120 330 L-20 540 L-53 450 Z" stroke-width="0.1" fill="#fff" style="stroke:none"/>
<path d="M-53 334 C-20 300 20 250 45 215 C60 190 90 170 120 170 L160 180 C190 220 215 290 210 350 C205 400 170 440 140 465 C130 480 130 495 135 505 C150 560 200 620 260 635 C320 640 400 620 430 590" stroke-width="2.12" fill="none" />
<path d="M0 340 C40 350 65 400 65 450 C65 500 40 520 0 525" stroke-width="2.01" fill="none" />
<path d="M0 545 C40 550 90 540 120 500 L135 470" stroke-width="2.12" fill="none" />
<path d="M150 330 L162 330 M134 366 L150 365" stroke-width="1.53" fill="none" />
</g>
<g transform="translate(425 130) scale(0.20202)">
<path d="M480 290 C510 280 540 285 550 300 C570 330 575 370 560 400 L520 410 L500 300Z" stroke-width="2.12" fill="#fff" />
<path d="M500 295 C530 330 535 380 520 410" stroke-width="1.77" fill="none" />
<path d="M385 290 C400 270 430 265 450 270 C490 300 510 360 515 420 C515 480 490 530 450 560 L405 575 L345 580 L365 420 Z" stroke-width="2.12" fill="#fff" />
<path d="M375 450 C400 460 415 490 410 530 C405 555 395 570 380 575" stroke-width="1.89" fill="none" />
<path d="M150 345 C150 290 180 245 220 235 L290 225 C330 235 370 280 390 340 C410 380 410 400 400 410 L365 420 C360 450 370 480 365 520 C360 560 345 580 330 585 L300 580 C250 560 210 520 195 490 Z" stroke-width="2.12" fill="#fff" />
<path d="M365 420 C350 425 350 440 365 445" stroke-width="1.77" fill="none" />
<path d="M170 355 C200 340 240 335 260 345 C290 370 300 420 285 465 L230 475 L200 490 Z" stroke-width="2.12" fill="#fff" />
<path d="M205 360 C235 390 240 440 225 478" stroke-width="1.89" fill="none" />
<path d="M20 440 C15 420 25 410 40 405 L150 375 L170 355 C205 390 215 440 200 490 L180 465 L60 478 C40 480 20 465 20 440Z" stroke-width="2.12" fill="#fff" />
</g>
<path d="M489.5 257.3 L500.5 256.9 C507.5 259.5 511.0 268.5 510.0 277.5 C509.5 282.5 506.5 285.0 502.5 285.7 L491.5 287.7 Z" stroke-width="3.07" fill="#fff" />
<ellipse cx="489.0" cy="272.5" rx="7.2" ry="14" stroke-width="3.4" fill="#fff" transform="rotate(-10 489.0 272.5)"/>
<path d="M482.0 273.0 L495.5 274.5" stroke-width="2.36" fill="none" />
<path d="M491.5 261.5 C497.5 267.5 499.0 276.5 496.5 283.5" stroke-width="2.83" fill="none" />
<path d="M498.5 275.5 L509.5 273.5" stroke-width="2.6" fill="none" />
<path d="M501.5 274.5 L501.5 271.0 M504.5 274.0 L504.5 271.5" stroke-width="1.53" fill="none" />
<path d="M549.0 243.3 L560.0 242.9 C567.0 245.5 570.5 254.5 569.5 263.5 C569.0 268.5 566.0 271.0 562.0 271.7 L551.0 273.7 Z" stroke-width="3.07" fill="#fff" />
<ellipse cx="548.5" cy="258.5" rx="7.2" ry="14" stroke-width="3.4" fill="#fff" transform="rotate(-10 548.5 258.5)"/>
<path d="M541.5 259.0 L555.0 260.5" stroke-width="2.36" fill="none" />
<path d="M551.0 247.5 C557.0 253.5 558.5 262.5 556.0 269.5" stroke-width="2.83" fill="none" />
<path d="M558.0 261.5 L569.0 259.5" stroke-width="2.6" fill="none" />
<path d="M561.0 260.5 L561.0 257.0 M564.0 260.0 L564.0 257.5" stroke-width="1.53" fill="none" />
<path d="M599.0 233.8 L610.0 233.4 C617.0 236.0 620.5 245.0 619.5 254.0 C619.0 259.0 616.0 261.5 612.0 262.2 L601.0 264.2 Z" stroke-width="3.07" fill="#fff" />
<ellipse cx="598.5" cy="249.0" rx="7.2" ry="14" stroke-width="3.4" fill="#fff" transform="rotate(-10 598.5 249.0)"/>
<path d="M591.5 249.5 L605.0 251.0" stroke-width="2.36" fill="none" />
<path d="M601.0 238.0 C607.0 244.0 608.5 253.0 606.0 260.0" stroke-width="2.83" fill="none" />
<path d="M608.0 252.0 L619.0 250.0" stroke-width="2.6" fill="none" />
<path d="M611.0 251.0 L611.0 247.5 M614.0 250.5 L614.0 248.0" stroke-width="1.53" fill="none" />
<path d="M665.5 220.8 L676.5 220.4 C683.5 223.0 687.0 232.0 686.0 241.0 C685.5 246.0 682.5 248.5 678.5 249.2 L667.5 251.2 Z" stroke-width="3.07" fill="#fff" />
<ellipse cx="665.0" cy="236.0" rx="7.2" ry="14" stroke-width="3.4" fill="#fff" transform="rotate(-10 665.0 236.0)"/>
<path d="M658.0 236.5 L671.5 238.0" stroke-width="2.36" fill="none" />
<path d="M667.5 225.0 C673.5 231.0 675.0 240.0 672.5 247.0" stroke-width="2.83" fill="none" />
<path d="M674.5 239.0 L685.5 237.0" stroke-width="2.6" fill="none" />
<path d="M677.5 238.0 L677.5 234.5 M680.5 237.5 L680.5 235.0" stroke-width="1.53" fill="none" />
<path d="M635.1 475.1 L636.4 484.1 L637.3 493.1 L637.7 502.0 L637.7 510.9 L637.3 519.7 L636.4 528.4 L635.1 536.8 L633.4 545.1 L631.3 553.0 L628.8 560.7 L626.0 567.9 L622.7 574.9 L619.1 581.4 L615.2 587.4 L610.9 593.0 L606.4 598.0 L601.5 602.6 L596.5 606.5 L591.2 609.9 L585.6 612.8 L580.0 615.0 L574.1 616.6 L568.2 617.6 L562.2 617.9 L556.1 617.7 L550.0 616.8 L543.8 615.3 L537.7 613.1 L531.7 610.4 L525.8 607.1 L520.0 603.2 L514.3 598.7 L508.8 593.7 L503.5 588.2 L498.4 582.2 L493.6 575.8 L489.0 569.0 L484.8 561.7 L480.8 554.1 L477.2 546.2 L474.0 538.0 L471.1 529.6 L468.6 521.0 L466.5 512.2 L464.9 503.3 L463.6 494.3 L462.7 485.3 L462.3 476.4 L462.3 467.5 L462.7 458.7 L463.6 450.0 L464.9 441.6 L466.6 433.3 L468.7 425.4 L471.2 417.7 L474.0 410.5 L477.3 403.5 L480.9 397.0 L484.8 391.0 L489.1 385.4 L493.6 380.4 L498.5 375.8 L503.5 371.9 L508.8 368.5 L514.4 365.6 L520.0 363.4 L525.9 361.8 L531.8 360.8 L537.8 360.5 L543.9 360.7 L550.0 361.6 L556.2 363.1 L562.3 365.3 L568.3 368.0 L574.2 371.3 L580.0 375.2 L585.7 379.7 L591.2 384.7 L596.5 390.2 L601.6 396.2 L606.4 402.6 L611.0 409.4 L615.2 416.7 L619.2 424.3 L622.8 432.2 L626.0 440.4 L628.9 448.8 L631.4 457.4 L633.5 466.2 L635.1 475.1Z" stroke-width="2.36" fill="#fff" />
<path d="M625.2 477.3 L626.5 486.2 L627.3 495.2 L627.8 504.2 L627.8 513.1 L627.3 521.9 L626.5 530.5 L625.2 539.0 L623.5 547.2 L621.4 555.2 L618.9 562.8 L616.0 570.1 L612.8 577.0 L609.2 583.5 L605.3 589.6 L601.0 595.1 L596.4 600.2 L591.6 604.7 L586.5 608.7 L581.2 612.1 L575.7 614.9 L570.0 617.1 L564.2 618.7 L558.3 619.7 L552.2 620.1 L546.2 619.8 L540.0 618.9 L533.9 617.4 L527.8 615.3 L521.8 612.5 L515.9 609.2 L510.0 605.3 L504.4 600.9 L498.9 595.9 L493.5 590.4 L488.5 584.4 L483.7 578.0 L479.1 571.1 L474.8 563.9 L470.9 556.3 L467.3 548.4 L464.1 540.2 L461.2 531.8 L458.7 523.1 L456.6 514.3 L454.9 505.5 L453.7 496.5 L452.8 487.5 L452.4 478.5 L452.4 469.6 L452.8 460.8 L453.7 452.2 L455.0 443.7 L456.7 435.5 L458.7 427.6 L461.2 419.9 L464.1 412.6 L467.4 405.7 L471.0 399.2 L474.9 393.2 L479.2 387.6 L483.7 382.5 L488.5 378.0 L493.6 374.0 L498.9 370.6 L504.4 367.8 L510.1 365.6 L515.9 364.0 L521.9 363.0 L527.9 362.6 L534.0 362.9 L540.1 363.8 L546.2 365.3 L552.3 367.4 L558.4 370.2 L564.3 373.5 L570.1 377.4 L575.8 381.8 L581.3 386.8 L586.6 392.3 L591.7 398.3 L596.5 404.7 L601.1 411.6 L605.3 418.8 L609.2 426.4 L612.8 434.4 L616.1 442.5 L619.0 451.0 L621.4 459.6 L623.5 468.4 L625.2 477.3Z" stroke-width="1.65" fill="#fff" />
<path d="M619.6 478.5 L620.9 487.4 L621.8 496.4 L622.2 505.4 L622.2 514.3 L621.8 523.1 L620.9 531.7 L619.6 540.2 L617.9 548.4 L615.8 556.4 L613.3 564.0 L610.5 571.3 L607.2 578.2 L603.6 584.7 L599.7 590.8 L595.4 596.3 L590.9 601.4 L586.0 605.9 L581.0 609.9 L575.7 613.3 L570.1 616.1 L564.5 618.4 L558.6 620.0 L552.7 620.9 L546.7 621.3 L540.6 621.0 L534.5 620.1 L528.3 618.6 L522.2 616.5 L516.2 613.8 L510.3 610.4 L504.5 606.5 L498.8 602.1 L493.3 597.1 L488.0 591.6 L482.9 585.6 L478.1 579.2 L473.5 572.3 L469.3 565.1 L465.3 557.5 L461.7 549.6 L458.5 541.4 L455.6 533.0 L453.1 524.3 L451.0 515.6 L449.4 506.7 L448.1 497.7 L447.2 488.7 L446.8 479.8 L446.8 470.9 L447.2 462.1 L448.1 453.4 L449.4 444.9 L451.1 436.7 L453.2 428.8 L455.7 421.1 L458.5 413.8 L461.8 406.9 L465.4 400.4 L469.3 394.4 L473.6 388.8 L478.1 383.7 L483.0 379.2 L488.0 375.2 L493.3 371.8 L498.9 369.0 L504.5 366.8 L510.4 365.2 L516.3 364.2 L522.3 363.8 L528.4 364.1 L534.5 365.0 L540.7 366.5 L546.8 368.7 L552.8 371.4 L558.7 374.7 L564.5 378.6 L570.2 383.1 L575.7 388.1 L581.0 393.5 L586.1 399.5 L590.9 406.0 L595.5 412.8 L599.7 420.1 L603.7 427.7 L607.3 435.6 L610.5 443.8 L613.4 452.2 L615.9 460.8 L618.0 469.6 L619.6 478.5Z" stroke-width="1.65" fill="#fff" />
<path d="M605.4 481.6 L606.7 490.5 L607.5 499.5 L607.9 508.5 L607.9 517.4 L607.5 526.2 L606.6 534.8 L605.4 543.3 L603.7 551.5 L601.6 559.5 L599.1 567.1 L596.2 574.4 L593.0 581.3 L589.4 587.8 L585.4 593.9 L581.2 599.4 L576.6 604.5 L571.8 609.0 L566.7 613.0 L561.4 616.4 L555.9 619.2 L550.2 621.5 L544.4 623.1 L538.4 624.1 L532.4 624.4 L526.3 624.1 L520.2 623.2 L514.1 621.7 L508.0 619.6 L502.0 616.9 L496.0 613.5 L490.2 609.6 L484.5 605.2 L479.0 600.2 L473.7 594.7 L468.6 588.7 L463.8 582.3 L459.3 575.4 L455.0 568.2 L451.1 560.6 L447.5 552.7 L444.2 544.5 L441.4 536.1 L438.9 527.4 L436.8 518.7 L435.1 509.8 L433.8 500.8 L433.0 491.8 L432.6 482.9 L432.6 474.0 L433.0 465.2 L433.8 456.5 L435.1 448.1 L436.8 439.8 L438.9 431.9 L441.4 424.2 L444.3 416.9 L447.5 410.0 L451.1 403.5 L455.1 397.5 L459.3 391.9 L463.9 386.9 L468.7 382.3 L473.8 378.3 L479.1 374.9 L484.6 372.1 L490.3 369.9 L496.1 368.3 L502.0 367.3 L508.1 366.9 L514.2 367.2 L520.3 368.1 L526.4 369.6 L532.5 371.8 L538.5 374.5 L544.5 377.8 L550.3 381.7 L556.0 386.2 L561.5 391.2 L566.8 396.7 L571.8 402.6 L576.7 409.1 L581.2 415.9 L585.5 423.2 L589.4 430.8 L593.0 438.7 L596.2 446.9 L599.1 455.3 L601.6 463.9 L603.7 472.7 L605.4 481.6Z" stroke-width="1.89" fill="#fff" />
<path d="M583.7 486.3 L585.0 495.3 L585.8 504.3 L586.2 513.2 L586.2 522.1 L585.8 530.9 L584.9 539.6 L583.7 548.0 L582.0 556.3 L579.9 564.2 L577.4 571.9 L574.5 579.2 L571.3 586.1 L567.7 592.6 L563.7 598.6 L559.5 604.2 L554.9 609.2 L550.1 613.8 L545.0 617.7 L539.7 621.2 L534.2 624.0 L528.5 626.2 L522.7 627.8 L516.7 628.8 L510.7 629.1 L504.6 628.9 L498.5 628.0 L492.4 626.5 L486.3 624.3 L480.3 621.6 L474.3 618.3 L468.5 614.4 L462.8 609.9 L457.3 604.9 L452.0 599.4 L446.9 593.5 L442.1 587.0 L437.6 580.2 L433.3 572.9 L429.4 565.3 L425.8 557.4 L422.5 549.2 L419.7 540.8 L417.2 532.2 L415.1 523.4 L413.4 514.5 L412.1 505.5 L411.3 496.6 L410.9 487.6 L410.9 478.7 L411.3 469.9 L412.1 461.2 L413.4 452.8 L415.1 444.6 L417.2 436.6 L419.7 429.0 L422.6 421.7 L425.8 414.7 L429.4 408.3 L433.4 402.2 L437.6 396.6 L442.2 391.6 L447.0 387.0 L452.1 383.1 L457.4 379.7 L462.9 376.8 L468.6 374.6 L474.4 373.0 L480.3 372.0 L486.4 371.7 L492.5 371.9 L498.6 372.8 L504.7 374.4 L510.8 376.5 L516.8 379.2 L522.8 382.5 L528.6 386.4 L534.3 390.9 L539.8 395.9 L545.1 401.4 L550.1 407.4 L555.0 413.8 L559.5 420.6 L563.8 427.9 L567.7 435.5 L571.3 443.4 L574.5 451.6 L577.4 460.0 L579.9 468.6 L582.0 477.4 L583.7 486.3Z" stroke-width="1.89" fill="#fff" />
<path d="M571.9 488.8 L573.1 497.6 L574.0 506.5 L574.4 515.3 L574.4 524.1 L573.9 532.8 L573.1 541.3 L571.8 549.6 L570.2 557.7 L568.1 565.6 L565.7 573.1 L562.8 580.3 L559.6 587.1 L556.1 593.5 L552.2 599.4 L548.0 604.9 L543.5 609.9 L538.8 614.4 L533.8 618.3 L528.5 621.6 L523.1 624.4 L517.5 626.6 L511.8 628.2 L505.9 629.1 L500.0 629.5 L494.0 629.2 L488.0 628.4 L481.9 626.9 L475.9 624.8 L470.0 622.1 L464.1 618.8 L458.4 615.0 L452.8 610.6 L447.4 605.7 L442.2 600.2 L437.2 594.4 L432.4 588.0 L427.9 581.3 L423.7 574.1 L419.9 566.6 L416.3 558.9 L413.1 550.8 L410.3 542.5 L407.9 534.0 L405.8 525.3 L404.1 516.6 L402.9 507.8 L402.0 498.9 L401.6 490.1 L401.6 481.3 L402.1 472.6 L402.9 464.1 L404.2 455.8 L405.8 447.7 L407.9 439.8 L410.3 432.3 L413.2 425.1 L416.4 418.3 L419.9 411.9 L423.8 406.0 L428.0 400.5 L432.5 395.5 L437.2 391.0 L442.2 387.1 L447.5 383.8 L452.9 381.0 L458.5 378.8 L464.2 377.2 L470.1 376.3 L476.0 375.9 L482.0 376.2 L488.0 377.0 L494.1 378.5 L500.1 380.6 L506.0 383.3 L511.9 386.6 L517.6 390.4 L523.2 394.8 L528.6 399.7 L533.8 405.2 L538.8 411.0 L543.6 417.4 L548.1 424.1 L552.3 431.3 L556.1 438.8 L559.7 446.5 L562.9 454.6 L565.7 462.9 L568.1 471.4 L570.2 480.1 L571.9 488.8Z" stroke-width="0.1" fill="#fff" style="stroke:none"/>
<path d="M527.2 615.2 L528.9 623.6 L527.8 624.2 L524.3 616.8 L522.3 617.8 L523.6 626.3 L522.5 626.8 L519.3 619.1 L517.2 619.9 L518.2 628.4 L517.0 628.8 L514.1 620.9 L512.0 621.5 L512.6 630.0 L511.5 630.2 L508.9 622.2 L506.7 622.5 L506.9 631.0 L505.8 631.1 L503.5 622.9 L501.4 623.0 L501.1 631.4 L500.0 631.4 L498.1 623.1 L495.9 623.0 L495.3 631.3 L494.1 631.2 L492.6 622.7 L490.5 622.4 L489.5 630.5 L488.3 630.3 L487.2 621.8 L485.0 621.3 L483.6 629.3 L482.4 628.9 L481.7 620.4 L479.5 619.7 L477.7 627.4 L476.6 627.0 L476.2 618.4 L474.1 617.5 L472.0 625.0 L470.8 624.4 L470.8 616.0 L468.7 614.9 L466.2 622.0 L465.1 621.4 L465.5 613.0 L463.4 611.7 L460.6 618.5 L459.5 617.8 L460.3 609.5 L458.3 608.0 L455.1 614.5 L454.0 613.6 L455.2 605.6 L453.2 603.9 L449.7 610.0 L448.7 609.0 L450.3 601.2 L448.3 599.3 L444.5 605.0 L443.5 603.9 L445.5 596.4 L443.6 594.3 L439.6 599.6 L438.6 598.4 L440.9 591.1 L439.1 588.9 L434.8 593.7 L433.8 592.4 L436.5 585.5 L434.8 583.1 L430.2 587.4 L429.4 586.1 L432.4 579.4 L430.8 576.9 L426.0 580.7 L425.1 579.3 L428.5 573.1 L427.0 570.4 L421.9 573.7 L421.2 572.3 L424.8 566.4 L423.4 563.6 L418.2 566.4 L417.5 564.9 L421.5 559.4 L420.2 556.6 L414.8 558.8 L414.2 557.2 L418.4 552.2 L417.3 549.3 L411.8 550.9 L411.2 549.3 L415.7 544.8 L414.7 541.7 L409.0 542.8 L408.5 541.2 L413.2 537.1 L412.4 534.0 L406.7 534.6 L406.2 532.9 L411.2 529.4 L410.4 526.2 L404.6 526.2 L404.3 524.5 L409.4 521.5 L408.8 518.3 L403.0 517.7 L402.7 515.9 L408.0 513.5 L407.6 510.3 L401.7 509.1 L401.5 507.4 L407.0 505.4 L406.7 502.2 L400.9 500.5 L400.7 498.8 L406.3 497.4 L406.1 494.2 L400.4 491.9 L400.3 490.2 L406.0 489.4 L406.0 486.2 L400.3 483.3 L400.3 481.6 L406.0 481.4 L406.2 478.3 L400.6 474.9 L400.7 473.2 L406.5 473.6 L406.7 470.4 L401.3 466.5 L401.4 464.9 L407.3 465.8 L407.7 462.8 L402.3 458.4 L402.6 456.8 L408.4 458.3 L409.0 455.3 L403.8 450.4 L404.1 448.8 L409.9 450.9 L410.6 448.0 L405.6 442.7 L406.0 441.1 L411.8 443.7 L412.6 441.0 L407.8 435.2 L408.3 433.7 L413.9 436.9 L414.9 434.2 L410.4 428.0 L410.9 426.6 L416.5 430.3 L417.6 427.7 L413.3 421.2 L413.9 419.9 L419.3 424.0 L420.5 421.6 L416.5 414.7 L417.2 413.5 L422.5 418.1 L423.8 415.9 L420.1 408.6 L420.8 407.5 L425.9 412.6 L427.4 410.5 L423.9 403.0 L424.7 401.9 L429.6 407.5 L431.2 405.5 L428.1 397.8 L428.9 396.8 L433.6 402.7 L435.3 401.0 L432.5 393.0 L433.4 392.1 L437.8 398.5 L439.6 396.9 L437.2 388.8 L438.1 388.0 L442.3 394.7 L444.1 393.3 L442.0 385.0 L443.0 384.3 L446.9 391.4 L448.8 390.2 L447.1 381.8 L448.2 381.2 L451.7 388.6 L453.7 387.6 L452.4 379.1 L453.5 378.6 L456.7 386.3 L458.8 385.5 L457.8 377.0 L459.0 376.6 L461.9 384.5 L464.0 383.9 L463.4 375.4 L464.5 375.2 L467.1 383.2 L469.3 382.9 L469.1 374.4 L470.2 374.3 L472.5 382.5 L474.6 382.4 L474.9 374.0 L476.0 374.0 L477.9 382.3 L480.1 382.4 L480.7 374.1 L481.9 374.2 L483.4 382.7 L485.5 383.0 L486.5 374.9 L487.7 375.1 L488.8 383.6" stroke-width="2.71" fill="none" />
<path d="M478.9 375.1 L483.2 375.4 L487.4 376.0 L491.7 377.0 L495.9 378.2 L500.2 379.8 L504.4 381.6 L508.5 383.7 L512.6 386.1 L516.7 388.8 L520.6 391.8 L524.5 395.0 L528.4 398.5 L532.1 402.2 L535.7 406.2 L539.2 410.4 L542.6 414.8 L545.8 419.4 L548.9 424.3 L551.9 429.3 L554.7 434.5 L557.4 439.8 L559.8 445.3 L562.2 451.0 L564.3 456.8 L566.2 462.6 L568.0 468.6 L569.6 474.7 L571.0 480.8 L572.2 486.9 L573.1 493.2 L573.9 499.4 L574.5 505.6 L574.9 511.9 L575.0 518.1 L575.0 524.2 L574.7 530.4 L574.3 536.4 L573.6 542.4 L572.7 548.3 L571.7 554.1 L570.4 559.7 L568.9 565.2 L567.2 570.6 L565.4 575.8 L563.4 580.8 L561.1 585.7 L558.7 590.3 L556.2 594.7 L553.5 599.0 L550.6 602.9 L547.5 606.7 L544.4 610.2 L541.1 613.4 L537.6 616.4 L534.1 619.1 L530.4 621.5 L526.7 623.7 L522.8 625.5 L518.9 627.1 L514.9 628.4" stroke-width="3.07" fill="none" />
<path d="M548.4 492.8 L571.2 485.0" stroke-width="2.3" />
<path d="M550.4 501.9 L572.7 494.7" stroke-width="2.3" />
<path d="M551.9 511.1 L573.8 504.4" stroke-width="2.3" />
<path d="M552.9 520.2 L574.3 514.1" stroke-width="2.3" />
<path d="M553.6 529.3 L574.4 523.8" stroke-width="2.3" />
<path d="M553.8 538.1 L573.9 533.3" stroke-width="2.3" />
<path d="M553.6 546.8 L572.9 542.6" stroke-width="2.3" />
<path d="M553.0 555.2 L571.5 551.7" stroke-width="2.3" />
<path d="M551.9 563.4 L569.5 560.5" stroke-width="2.3" />
<path d="M550.4 571.1 L567.1 569.0" stroke-width="2.3" />
<path d="M548.5 578.5 L564.2 577.0" stroke-width="2.3" />
<path d="M546.2 585.4 L560.8 584.7" stroke-width="2.3" />
<path d="M543.5 591.9 L557.0 591.9" stroke-width="2.3" />
<path d="M540.4 597.8 L552.8 598.5" stroke-width="2.3" />
<path d="M537.0 603.2 L548.3 604.6" stroke-width="2.3" />
<path d="M533.3 608.0 L543.4 610.1" stroke-width="2.3" />
<path d="M529.2 612.1 L538.1 614.9" stroke-width="2.3" />
<path d="M524.8 615.7 L532.6 619.1" stroke-width="2.3" />
<path d="M520.2 618.6 L526.8 622.6" stroke-width="2.3" />
<path d="M515.3 620.8 L520.8 625.4" stroke-width="2.3" />
<path d="M465.9 384.4 L480.9 376.1" stroke-width="2.3" />
<path d="M471.4 385.6 L487.5 376.9" stroke-width="2.3" />
<path d="M477.1 387.6 L494.1 378.6" stroke-width="2.3" />
<path d="M482.7 390.3 L500.7 380.9" stroke-width="2.3" />
<path d="M488.4 393.6 L507.2 384.0" stroke-width="2.3" />
<path d="M494.0 397.5 L513.6 387.7" stroke-width="2.3" />
<path d="M499.5 402.1 L519.9 392.1" stroke-width="2.3" />
<path d="M504.9 407.3 L525.9 397.2" stroke-width="2.3" />
<path d="M510.1 413.1 L531.7 402.9" stroke-width="2.3" />
<path d="M515.2 419.3 L537.3 409.2" stroke-width="2.3" />
<path d="M520.1 426.1 L542.6 416.0" stroke-width="2.3" />
<path d="M524.7 433.3 L547.6 423.4" stroke-width="2.3" />
<path d="M529.0 441.0 L552.2 431.2" stroke-width="2.3" />
<path d="M533.1 449.0 L556.4 439.4" stroke-width="2.3" />
<path d="M536.9 457.3 L560.3 448.0" stroke-width="2.3" />
<path d="M540.3 465.9 L563.7 456.9" stroke-width="2.3" />
<path d="M543.4 474.7 L566.7 466.1" stroke-width="2.3" />
<path d="M546.1 483.7 L569.2 475.5" stroke-width="2.3" />
<path d="M462.6 380.7 L465.9 384.4 L468.3 381.6 L471.4 385.6 L474.1 383.3 L477.1 387.6 L479.9 385.7 L482.7 390.3 L485.7 388.8 L488.4 393.6 L491.5 392.5 L494.0 397.5 L497.2 396.9 L499.5 402.1 L502.8 401.9 L504.9 407.3 L508.3 407.5 L510.1 413.1 L513.6 413.7 L515.2 419.3 L518.7 420.4 L520.1 426.1 L523.6 427.6 L524.7 433.3 L528.2 435.3 L529.0 441.0 L532.5 443.3 L533.1 449.0 L536.6 451.7 L536.9 457.3 L540.3 460.4 L540.3 465.9 L543.6 469.3 L543.4 474.7 L546.6 478.5 L546.1 483.7 L549.2 487.8 L548.4 492.8 L551.4 497.2 L550.4 501.9 L553.1 506.6 L551.9 511.1 L554.5 516.0 L552.9 520.2 L555.4 525.4 L553.6 529.3 L555.8 534.6 L553.8 538.1 L555.8 543.6 L553.6 546.8 L555.4 552.4 L553.0 555.2 L554.5 560.9 L551.9 563.4 L553.2 569.0 L550.4 571.1 L551.4 576.8 L548.5 578.5 L549.3 584.2 L546.2 585.4 L546.7 591.1 L543.5 591.9 L543.7 597.4 L540.4 597.8 L540.4 603.2 L537.0 603.2 L536.7 608.5 L533.3 608.0 L532.7 613.1 L529.2 612.1 L528.3 617.0 L524.8 615.7 L523.7 620.3 L520.2 618.6 L518.8 623.0 L515.3 620.8" stroke-width="1.77" fill="none" />
<clipPath id="boreclip"><path d="M541.4 487.0 L543.3 494.7 L544.9 502.4 L546.2 510.1 L547.1 517.8 L547.7 525.4 L548.0 532.9 L548.0 540.2 L547.6 547.4 L546.9 554.3 L545.9 561.1 L544.5 567.5 L542.8 573.6 L540.9 579.4 L538.6 584.8 L536.0 589.8 L533.2 594.4 L530.1 598.5 L526.8 602.2 L523.2 605.4 L519.5 608.1 L515.5 610.3 L511.4 612.0 L507.1 613.2 L502.7 613.8 L498.1 613.8 L493.5 613.4 L488.8 612.4 L484.1 610.9 L479.4 608.8 L474.6 606.3 L469.9 603.2 L465.2 599.6 L460.6 595.6 L456.1 591.2 L451.7 586.3 L447.5 581.0 L443.4 575.3 L439.5 569.3 L435.8 562.9 L432.3 556.3 L429.0 549.4 L426.0 542.3 L423.2 535.0 L420.8 527.5 L418.6 520.0 L416.7 512.3 L415.1 504.6 L413.8 496.9 L412.9 489.2 L412.3 481.6 L412.0 474.1 L412.0 466.8 L412.4 459.6 L413.1 452.7 L414.1 445.9 L415.5 439.5 L417.2 433.4 L419.1 427.6 L421.4 422.2 L424.0 417.2 L426.8 412.6 L429.9 408.5 L433.2 404.8 L436.8 401.6 L440.5 398.9 L444.5 396.7 L448.6 395.0 L452.9 393.8 L457.3 393.2 L461.9 393.2 L466.5 393.6 L471.2 394.6 L475.9 396.1 L480.6 398.2 L485.4 400.7 L490.1 403.8 L494.8 407.4 L499.4 411.4 L503.9 415.8 L508.3 420.7 L512.5 426.0 L516.6 431.7 L520.5 437.7 L524.2 444.1 L527.7 450.7 L531.0 457.6 L534.0 464.7 L536.8 472.0 L539.2 479.5 L541.4 487.0Z"/></clipPath>
<path d="M541.4 487.0 L543.3 494.7 L544.9 502.4 L546.2 510.1 L547.1 517.8 L547.7 525.4 L548.0 532.9 L548.0 540.2 L547.6 547.4 L546.9 554.3 L545.9 561.1 L544.5 567.5 L542.8 573.6 L540.9 579.4 L538.6 584.8 L536.0 589.8 L533.2 594.4 L530.1 598.5 L526.8 602.2 L523.2 605.4 L519.5 608.1 L515.5 610.3 L511.4 612.0 L507.1 613.2 L502.7 613.8 L498.1 613.8 L493.5 613.4 L488.8 612.4 L484.1 610.9 L479.4 608.8 L474.6 606.3 L469.9 603.2 L465.2 599.6 L460.6 595.6 L456.1 591.2 L451.7 586.3 L447.5 581.0 L443.4 575.3 L439.5 569.3 L435.8 562.9 L432.3 556.3 L429.0 549.4 L426.0 542.3 L423.2 535.0 L420.8 527.5 L418.6 520.0 L416.7 512.3 L415.1 504.6 L413.8 496.9 L412.9 489.2 L412.3 481.6 L412.0 474.1 L412.0 466.8 L412.4 459.6 L413.1 452.7 L414.1 445.9 L415.5 439.5 L417.2 433.4 L419.1 427.6 L421.4 422.2 L424.0 417.2 L426.8 412.6 L429.9 408.5 L433.2 404.8 L436.8 401.6 L440.5 398.9 L444.5 396.7 L448.6 395.0 L452.9 393.8 L457.3 393.2 L461.9 393.2 L466.5 393.6 L471.2 394.6 L475.9 396.1 L480.6 398.2 L485.4 400.7 L490.1 403.8 L494.8 407.4 L499.4 411.4 L503.9 415.8 L508.3 420.7 L512.5 426.0 L516.6 431.7 L520.5 437.7 L524.2 444.1 L527.7 450.7 L531.0 457.6 L534.0 464.7 L536.8 472.0 L539.2 479.5 L541.4 487.0Z" stroke-width="1.77" fill="#fff" />
<g clip-path="url(#boreclip)">
<path d="M556.4 485.0 L558.3 492.7 L559.9 500.4 L561.2 508.1 L562.1 515.8 L562.7 523.4 L563.0 530.9 L563.0 538.2 L562.6 545.4 L561.9 552.3 L560.9 559.1 L559.5 565.5 L557.8 571.6 L555.9 577.4 L553.6 582.8 L551.0 587.8 L548.2 592.4 L545.1 596.5 L541.8 600.2 L538.2 603.4 L534.5 606.1 L530.5 608.3 L526.4 610.0 L522.1 611.2 L517.7 611.8 L513.1 611.8 L508.5 611.4 L503.8 610.4 L499.1 608.9 L494.4 606.8 L489.6 604.3 L484.9 601.2 L480.2 597.6 L475.6 593.6 L471.1 589.2 L466.7 584.3 L462.5 579.0 L458.4 573.3 L454.5 567.3 L450.8 560.9 L447.3 554.3 L444.0 547.4 L441.0 540.3 L438.2 533.0 L435.8 525.5 L433.6 518.0 L431.7 510.3 L430.1 502.6 L428.8 494.9 L427.9 487.2 L427.3 479.6 L427.0 472.1 L427.0 464.8 L427.4 457.6 L428.1 450.7 L429.1 443.9 L430.5 437.5 L432.2 431.4 L434.1 425.6 L436.4 420.2 L439.0 415.2 L441.8 410.6 L444.9 406.5 L448.2 402.8 L451.8 399.6 L455.5 396.9 L459.5 394.7 L463.6 393.0 L467.9 391.8 L472.3 391.2 L476.9 391.2 L481.5 391.6 L486.2 392.6 L490.9 394.1 L495.6 396.2 L500.4 398.7 L505.1 401.8 L509.8 405.4 L514.4 409.4 L518.9 413.8 L523.3 418.7 L527.5 424.0 L531.6 429.7 L535.5 435.7 L539.2 442.1 L542.7 448.7 L546.0 455.6 L549.0 462.7 L551.8 470.0 L554.2 477.5 L556.4 485.0Z" stroke-width="2.71" fill="none" />
<path d="M570.9 483.0 L572.6 490.0 L574.1 497.0 L575.2 504.0 L576.1 511.0 L576.6 517.9 L576.9 524.7 L576.9 531.4 L576.5 537.9 L575.9 544.3 L574.9 550.4 L573.7 556.2 L572.2 561.8 L570.4 567.0 L568.3 572.0 L566.0 576.5 L563.4 580.7 L560.6 584.5 L557.6 587.8 L554.3 590.8 L550.9 593.2 L547.3 595.2 L543.5 596.7 L539.6 597.8 L535.6 598.3 L531.5 598.4 L527.3 598.0 L523.0 597.1 L518.7 595.7 L514.4 593.8 L510.1 591.5 L505.8 588.7 L501.6 585.5 L497.4 581.8 L493.3 577.8 L489.3 573.3 L485.4 568.5 L481.7 563.3 L478.1 557.9 L474.8 552.1 L471.6 546.0 L468.6 539.8 L465.9 533.3 L463.3 526.7 L461.1 519.9 L459.1 513.0 L457.4 506.0 L455.9 499.0 L454.8 492.0 L453.9 485.0 L453.4 478.1 L453.1 471.3 L453.1 464.6 L453.5 458.1 L454.1 451.7 L455.1 445.6 L456.3 439.8 L457.8 434.2 L459.6 429.0 L461.7 424.0 L464.0 419.5 L466.6 415.3 L469.4 411.5 L472.4 408.2 L475.7 405.2 L479.1 402.8 L482.7 400.8 L486.5 399.3 L490.4 398.2 L494.4 397.7 L498.5 397.6 L502.7 398.0 L507.0 398.9 L511.3 400.3 L515.6 402.2 L519.9 404.5 L524.2 407.3 L528.4 410.5 L532.6 414.2 L536.7 418.2 L540.7 422.7 L544.6 427.5 L548.3 432.7 L551.9 438.1 L555.2 443.9 L558.4 450.0 L561.4 456.2 L564.1 462.7 L566.7 469.3 L568.9 476.1 L570.9 483.0Z" stroke-width="2.24" fill="none" />
<path d="M567.8 483.9 L569.3 490.0 L570.5 496.1 L571.5 502.2 L572.3 508.3 L572.8 514.4 L573.0 520.3 L573.0 526.1 L572.7 531.8 L572.1 537.4 L571.3 542.7 L570.2 547.8 L568.9 552.7 L567.3 557.2 L565.5 561.5 L563.5 565.5 L561.3 569.2 L558.8 572.5 L556.2 575.4 L553.3 577.9 L550.3 580.1 L547.2 581.8 L543.9 583.2 L540.5 584.1 L537.0 584.6 L533.4 584.6 L529.7 584.3 L526.0 583.5 L522.3 582.3 L518.5 580.6 L514.7 578.6 L511.0 576.2 L507.3 573.3 L503.6 570.1 L500.0 566.6 L496.6 562.7 L493.2 558.5 L489.9 554.0 L486.8 549.2 L483.9 544.2 L481.1 538.9 L478.5 533.5 L476.1 527.8 L473.9 522.0 L472.0 516.1 L470.2 510.1 L468.7 504.0 L467.5 497.9 L466.5 491.8 L465.7 485.7 L465.2 479.6 L465.0 473.7 L465.0 467.9 L465.3 462.2 L465.9 456.6 L466.7 451.3 L467.8 446.2 L469.1 441.3 L470.7 436.8 L472.5 432.5 L474.5 428.5 L476.7 424.8 L479.2 421.5 L481.8 418.6 L484.7 416.1 L487.7 413.9 L490.8 412.2 L494.1 410.8 L497.5 409.9 L501.0 409.4 L504.6 409.4 L508.3 409.7 L512.0 410.5 L515.7 411.7 L519.5 413.4 L523.3 415.4 L527.0 417.8 L530.7 420.7 L534.4 423.9 L538.0 427.4 L541.4 431.3 L544.8 435.5 L548.1 440.0 L551.2 444.8 L554.1 449.8 L556.9 455.1 L559.5 460.5 L561.9 466.2 L564.1 472.0 L566.0 477.9 L567.8 483.9Z" stroke-width="1.77" fill="none" />
<path d="M562.4 485.4 L563.7 490.6 L564.7 495.8 L565.6 500.9 L566.2 506.1 L566.7 511.2 L566.8 516.3 L566.8 521.2 L566.6 526.1 L566.1 530.8 L565.4 535.3 L564.5 539.6 L563.4 543.7 L562.0 547.6 L560.5 551.3 L558.8 554.7 L556.9 557.8 L554.8 560.6 L552.5 563.0 L550.1 565.2 L547.6 567.0 L544.9 568.5 L542.1 569.6 L539.3 570.4 L536.3 570.8 L533.2 570.9 L530.1 570.6 L527.0 569.9 L523.8 568.9 L520.6 567.5 L517.4 565.8 L514.2 563.7 L511.0 561.3 L507.9 558.6 L504.9 555.6 L502.0 552.3 L499.1 548.7 L496.3 544.9 L493.7 540.8 L491.2 536.6 L488.8 532.1 L486.6 527.4 L484.6 522.6 L482.7 517.7 L481.1 512.7 L479.6 507.6 L478.3 502.4 L477.3 497.2 L476.4 492.1 L475.8 486.9 L475.3 481.8 L475.2 476.7 L475.2 471.8 L475.4 466.9 L475.9 462.2 L476.6 457.7 L477.5 453.4 L478.6 449.3 L480.0 445.4 L481.5 441.7 L483.2 438.3 L485.1 435.2 L487.2 432.4 L489.5 430.0 L491.9 427.8 L494.4 426.0 L497.1 424.5 L499.9 423.4 L502.7 422.6 L505.7 422.2 L508.8 422.1 L511.9 422.4 L515.0 423.1 L518.2 424.1 L521.4 425.5 L524.6 427.2 L527.8 429.3 L531.0 431.7 L534.1 434.4 L537.1 437.4 L540.0 440.7 L542.9 444.3 L545.7 448.1 L548.3 452.2 L550.8 456.4 L553.2 460.9 L555.4 465.6 L557.4 470.4 L559.3 475.3 L560.9 480.3 L562.4 485.4Z" stroke-width="1.77" fill="none" />
<path d="M552.7 488.3 L553.7 492.1 L554.5 495.9 L555.1 499.8 L555.6 503.6 L555.9 507.4 L556.0 511.2 L556.0 514.9 L555.8 518.4 L555.4 521.9 L554.9 525.3 L554.3 528.5 L553.4 531.5 L552.4 534.4 L551.3 537.1 L550.0 539.6 L548.6 541.9 L547.1 544.0 L545.4 545.9 L543.6 547.5 L541.7 548.8 L539.8 549.9 L537.7 550.8 L535.5 551.3 L533.3 551.6 L531.1 551.7 L528.8 551.4 L526.4 550.9 L524.1 550.2 L521.7 549.2 L519.3 547.9 L516.9 546.3 L514.6 544.6 L512.3 542.6 L510.1 540.3 L507.9 537.9 L505.7 535.2 L503.7 532.4 L501.7 529.4 L499.9 526.2 L498.1 522.9 L496.5 519.5 L495.0 515.9 L493.6 512.2 L492.4 508.5 L491.3 504.7 L490.3 500.9 L489.5 497.1 L488.9 493.2 L488.4 489.4 L488.1 485.6 L488.0 481.8 L488.0 478.1 L488.2 474.6 L488.6 471.1 L489.1 467.7 L489.7 464.5 L490.6 461.5 L491.6 458.6 L492.7 455.9 L494.0 453.4 L495.4 451.1 L496.9 449.0 L498.6 447.1 L500.4 445.5 L502.3 444.2 L504.2 443.1 L506.3 442.2 L508.5 441.7 L510.7 441.4 L512.9 441.3 L515.2 441.6 L517.6 442.1 L519.9 442.8 L522.3 443.8 L524.7 445.1 L527.1 446.7 L529.4 448.4 L531.7 450.4 L533.9 452.7 L536.1 455.1 L538.3 457.8 L540.3 460.6 L542.3 463.6 L544.1 466.8 L545.9 470.1 L547.5 473.5 L549.0 477.1 L550.4 480.8 L551.6 484.5 L552.7 488.3Z" stroke-width="1.89" fill="none" />
</g>
<path d="M541.4 487.0 L543.3 494.7 L544.9 502.4 L546.2 510.1 L547.1 517.8 L547.7 525.4 L548.0 532.9 L548.0 540.2 L547.6 547.4 L546.9 554.3 L545.9 561.1 L544.5 567.5 L542.8 573.6 L540.9 579.4 L538.6 584.8 L536.0 589.8 L533.2 594.4 L530.1 598.5 L526.8 602.2 L523.2 605.4 L519.5 608.1 L515.5 610.3 L511.4 612.0 L507.1 613.2 L502.7 613.8 L498.1 613.8 L493.5 613.4 L488.8 612.4 L484.1 610.9 L479.4 608.8 L474.6 606.3 L469.9 603.2 L465.2 599.6 L460.6 595.6 L456.1 591.2 L451.7 586.3 L447.5 581.0 L443.4 575.3 L439.5 569.3 L435.8 562.9 L432.3 556.3 L429.0 549.4 L426.0 542.3 L423.2 535.0 L420.8 527.5 L418.6 520.0 L416.7 512.3 L415.1 504.6 L413.8 496.9 L412.9 489.2 L412.3 481.6 L412.0 474.1 L412.0 466.8 L412.4 459.6 L413.1 452.7 L414.1 445.9 L415.5 439.5 L417.2 433.4 L419.1 427.6 L421.4 422.2 L424.0 417.2 L426.8 412.6 L429.9 408.5 L433.2 404.8 L436.8 401.6 L440.5 398.9 L444.5 396.7 L448.6 395.0 L452.9 393.8 L457.3 393.2 L461.9 393.2 L466.5 393.6 L471.2 394.6 L475.9 396.1 L480.6 398.2 L485.4 400.7 L490.1 403.8 L494.8 407.4 L499.4 411.4 L503.9 415.8 L508.3 420.7 L512.5 426.0 L516.6 431.7 L520.5 437.7 L524.2 444.1 L527.7 450.7 L531.0 457.6 L534.0 464.7 L536.8 472.0 L539.2 479.5 L541.4 487.0Z" stroke-width="1.77" fill="none" />
<path d="M545.9 489.5 L546.4 492.3 L546.8 495.0 L547.1 497.8 L547.3 500.5 L547.3 503.2 L547.2 505.9 L547.0 508.5 L546.7 511.0 L546.3 513.5 L545.7 515.8 L545.1 518.1 L544.3 520.2 L543.4 522.3 L542.4 524.1 L541.3 525.9 L540.2 527.5 L538.9 528.9 L537.6 530.2 L536.1 531.3 L534.7 532.2 L533.1 532.9 L531.5 533.4 L529.9 533.8 L528.2 533.9 L526.5 533.9 L524.8 533.7 L523.1 533.3 L521.3 532.6 L519.6 531.9 L517.9 530.9 L516.2 529.7 L514.5 528.4 L512.9 526.9 L511.3 525.3 L509.8 523.5 L508.3 521.5 L506.9 519.5 L505.6 517.3 L504.3 515.0 L503.2 512.6 L502.1 510.1 L501.2 507.5 L500.3 504.9 L499.6 502.2 L498.9 499.5 L498.4 496.7 L498.0 494.0 L497.7 491.2 L497.5 488.5 L497.5 485.8 L497.6 483.1 L497.8 480.5 L498.1 478.0 L498.5 475.5 L499.1 473.2 L499.7 470.9 L500.5 468.8 L501.4 466.7 L502.4 464.9 L503.5 463.1 L504.6 461.5 L505.9 460.1 L507.2 458.8 L508.7 457.7 L510.1 456.8 L511.7 456.1 L513.3 455.6 L514.9 455.2 L516.6 455.1 L518.3 455.1 L520.0 455.3 L521.7 455.7 L523.5 456.4 L525.2 457.1 L526.9 458.1 L528.6 459.3 L530.3 460.6 L531.9 462.1 L533.5 463.7 L535.0 465.5 L536.5 467.5 L537.9 469.5 L539.2 471.7 L540.5 474.0 L541.6 476.4 L542.7 478.9 L543.6 481.5 L544.5 484.1 L545.2 486.8 L545.9 489.5Z" stroke-width="2.12" fill="none" />
<path d="M532.7 491.9 L532.9 493.2 L533.0 494.4 L533.2 495.7 L533.2 496.9 L533.3 498.1 L533.3 499.3 L533.3 500.4 L533.2 501.5 L533.1 502.6 L533.0 503.6 L532.8 504.6 L532.6 505.5 L532.4 506.4 L532.1 507.1 L531.8 507.9 L531.5 508.5 L531.1 509.1 L530.8 509.6 L530.4 510.0 L529.9 510.3 L529.5 510.6 L529.0 510.7 L528.6 510.8 L528.1 510.8 L527.6 510.7 L527.1 510.5 L526.6 510.2 L526.1 509.9 L525.6 509.4 L525.1 508.9 L524.6 508.3 L524.1 507.7 L523.6 506.9 L523.1 506.1 L522.7 505.2 L522.2 504.3 L521.8 503.3 L521.4 502.3 L521.0 501.2 L520.7 500.1 L520.3 498.9 L520.0 497.7 L519.7 496.5 L519.5 495.3 L519.3 494.1 L519.1 492.8 L519.0 491.6 L518.8 490.3 L518.8 489.1 L518.7 487.9 L518.7 486.7 L518.7 485.6 L518.8 484.5 L518.9 483.4 L519.0 482.4 L519.2 481.4 L519.4 480.5 L519.6 479.6 L519.9 478.9 L520.2 478.1 L520.5 477.5 L520.9 476.9 L521.2 476.4 L521.6 476.0 L522.1 475.7 L522.5 475.4 L523.0 475.3 L523.4 475.2 L523.9 475.2 L524.4 475.3 L524.9 475.5 L525.4 475.8 L525.9 476.1 L526.4 476.6 L526.9 477.1 L527.4 477.7 L527.9 478.3 L528.4 479.1 L528.9 479.9 L529.3 480.8 L529.8 481.7 L530.2 482.7 L530.6 483.7 L531.0 484.8 L531.3 485.9 L531.7 487.1 L532.0 488.3 L532.3 489.5 L532.5 490.7 L532.7 491.9Z" stroke-width="2.01" fill="none" />
<path d="M527.0 513.8 L526.6 513.8 L526.2 513.8 L525.8 513.8 L525.4 513.7 L525.0 513.6 L524.5 513.5 L524.1 513.4 L523.7 513.2 L523.3 513.0 L522.9 512.9 L522.4 512.6 L522.0 512.4 L521.6 512.1 L521.2 511.9 L520.8 511.6 L520.4 511.3 L520.0 510.9 L519.7 510.6 L519.3 510.2 L518.9 509.8 L518.5 509.4 L518.2 509.0 L517.8 508.6 L517.5 508.1 L517.2 507.6 L516.8 507.2 L516.5 506.7 L516.2 506.2 L515.9 505.6 L515.6 505.1 L515.3 504.5 L515.1 504.0 L514.8 503.4 L514.6 502.8 L514.3 502.2 L514.1 501.6 L513.9 501.0 L513.7 500.4 L513.5 499.8 L513.3 499.2 L513.2 498.5 L513.0 497.9 L512.9 497.3 L512.8 496.6 L512.7 496.0 L512.6 495.3 L512.5 494.6 L512.4 494.0 L512.3 493.3 L512.3 492.7 L512.3 492.0 L512.3 491.4 L512.3 490.7 L512.3 490.1 L512.3 489.5 L512.3 488.8 L512.4 488.2 L512.5 487.6 L512.6 487.0 L512.6 486.3 L512.8 485.7 L512.9 485.2 L513.0 484.6 L513.2 484.0 L513.3 483.4 L513.5 482.9 L513.7 482.4 L513.9 481.8 L514.1 481.3 L514.3 480.8 L514.6 480.3 L514.8 479.9 L515.1 479.4 L515.3 479.0 L515.6 478.6 L515.9 478.2 L516.2 477.8 L516.5 477.4 L516.8 477.1 L517.1 476.7 L517.5 476.4 L517.8 476.1 L518.2 475.8 L518.5 475.6 L518.9 475.4 L519.3 475.1 L519.6 474.9 L520.0 474.8 L520.4 474.6 L520.8 474.5" stroke-width="1.89" fill="none" />
<path d="M524.6 467.7 L523.9 468.6 L523.0 469.1 L522.0 469.1 L521.1 468.6 L520.4 467.6 L520.1 466.4 L520.2 465.2 L520.7 464.1 L521.6 463.4 L522.6 463.2 L523.5 463.5 L524.3 464.3" stroke-width="1.89" fill="none" />
<path d="M539.5 485.4 L538.8 486.3 L537.9 486.8 L536.9 486.8 L536.0 486.3 L535.3 485.4 L535.0 484.2 L535.2 482.9 L535.7 481.8 L536.5 481.1 L537.5 480.9 L538.5 481.2 L539.3 482.0" stroke-width="1.89" fill="none" />
<path d="M541.7 512.6 L541.0 513.5 L540.1 514.0 L539.1 514.0 L538.2 513.5 L537.5 512.5 L537.2 511.3 L537.4 510.1 L537.9 509.0 L538.7 508.3 L539.7 508.1 L540.7 508.4 L541.5 509.1" stroke-width="1.89" fill="none" />
<path d="M527.7 526.0 L527.1 527.0 L526.2 527.5 L525.2 527.5 L524.2 526.9 L523.6 526.0 L523.3 524.8 L523.4 523.5 L523.9 522.5 L524.8 521.8 L525.7 521.5 L526.7 521.8 L527.5 522.6" stroke-width="1.89" fill="none" />
<path d="M510.6 510.0 L510.0 510.9 L509.0 511.4 L508.0 511.4 L507.1 510.9 L506.5 509.9 L506.2 508.7 L506.3 507.5 L506.8 506.4 L507.6 505.7 L508.6 505.5 L509.6 505.8 L510.4 506.5" stroke-width="1.89" fill="none" />
<path d="M507.0 482.6 L506.3 483.6 L505.4 484.1 L504.4 484.1 L503.5 483.6 L502.8 482.6 L502.5 481.4 L502.6 480.2 L503.2 479.1 L504.0 478.4 L505.0 478.2 L505.9 478.4 L506.7 479.2" stroke-width="1.89" fill="none" />
<path d="M464.0 468.0 L464.0 476.0" stroke-width="1.4" stroke-dasharray="2 2" />
<path d="M530.0 560.0 L534.0 563.0" stroke-width="2" />
<path d="M454.4 257.5 L722.2 206.4" stroke-width="1.2" />
<path d="M454.4 369.2 L722.2 316.2" stroke-width="1.2" />
<path d="M454.4 257.5 L454.4 369.2" stroke-width="1.2" />
<path d="M722.2 206.4 L722.2 316.2" stroke-width="1.4" />
<path d="M454.4 257.5 L485.2 251.6" stroke-width="4" stroke-dasharray="6 3.6" style="stroke-linecap:butt"/>
<path d="M686.0 213.3 L722.2 206.4" stroke-width="4" stroke-dasharray="6 3.6" style="stroke-linecap:butt"/>
<path d="M454.4 369.2 L485.2 363.1" stroke-width="4" stroke-dasharray="6 3.6" style="stroke-linecap:butt"/>
<path d="M690.1 322.6 L722.2 316.2" stroke-width="4" stroke-dasharray="6 3.6" style="stroke-linecap:butt"/>
<path d="M454.4 257.5 L454.4 293.5" stroke-width="4" stroke-dasharray="4.4 3.6" style="stroke-linecap:butt"/>
<path d="M454.4 346.5 L454.4 369.2" stroke-width="4" stroke-dasharray="4.4 3.6" style="stroke-linecap:butt"/>
<path d="M722.2 206.4 L722.2 231.0" stroke-width="4" stroke-dasharray="4.4 3.6" style="stroke-linecap:butt"/>
<path d="M722.2 286.0 L722.2 316.2" stroke-width="4" stroke-dasharray="4.4 3.6" style="stroke-linecap:butt"/>
<g transform="translate(630 440) scale(0.18939)">
<path d="M200 65 L260 55 C290 65 305 110 300 140 C300 175 290 195 270 205 L210 225 Z" stroke-width="2.36" fill="#fff" />
<ellipse cx="193" cy="145" rx="46" ry="78" stroke-width="3.2" fill="#fff" transform="rotate(-6 193 145)"/>
<ellipse cx="190" cy="146" rx="28" ry="54" stroke-width="2.2" fill="#fff" transform="rotate(-6 190 146)"/>
<ellipse cx="188" cy="147" rx="13" ry="27" stroke-width="3" fill="#fff" transform="rotate(-6 188 147)"/>
<path d="M500 150 L610 135 L612 198 L505 205 C480 200 480 158 500 150Z" stroke-width="2.6" fill="#fff" />
<path d="M520 148 C528 163 528 183 522 202" stroke-width="2.12" fill="none" />
<path d="M540 145 C548 161 548 182 542 201" stroke-width="2.12" fill="none" />
<path d="M560 143 C568 159 568 180 562 199" stroke-width="2.12" fill="none" />
<path d="M580 140 C588 157 588 179 582 198" stroke-width="2.12" fill="none" />
<path d="M598 138 C606 155 606 177 600 197" stroke-width="2.12" fill="none" />
<path d="M650 95 L700 88 C725 95 728 160 715 190 L660 205 Z" stroke-width="2.83" fill="#fff" />
<path d="M680 92 C700 110 702 170 688 198" stroke-width="2.12" fill="none" />
<ellipse cx="640" cy="150" rx="30" ry="60" stroke-width="2.6" fill="#fff" transform="rotate(-6 640 150)"/>
<ellipse cx="628" cy="152" rx="20" ry="44" stroke-width="2" fill="#fff" transform="rotate(-6 628 152)"/>
<path d="M100 580 L180 570 C200 572 198 602 185 606 L100 630 C78 632 74 588 100 580Z" stroke-width="2.83" fill="#fff" />
<path d="M100 580 C118 590 118 620 100 630" stroke-width="1.89" fill="none" />
</g>
<g transform="translate(255 760) scale(0.11364)">
<path d="M250 215 L330 160 L480 140 C540 150 585 250 590 330 C592 410 570 470 530 492 L330 525 L240 528 Z" stroke-width="3.07" fill="#000" />
<path d="M250 215 L330 165 C390 200 420 300 415 400 C410 450 390 500 360 518 L240 528 Z" stroke-width="2.6" fill="#fff" />
<path d="M335 165 C395 200 425 300 420 400 C415 450 395 500 365 518" stroke-width="3.78" fill="none" />
<path d="M424 202 L494 190" stroke-width="1.89" fill="none" style="stroke:#fff"/>
<path d="M430 242 L500 230" stroke-width="1.89" fill="none" style="stroke:#fff"/>
<path d="M436 282 L506 270" stroke-width="1.89" fill="none" style="stroke:#fff"/>
<path d="M442 322 L512 310" stroke-width="1.89" fill="none" style="stroke:#fff"/>
<path d="M442 362 L512 350" stroke-width="1.89" fill="none" style="stroke:#fff"/>
<path d="M436 402 L506 390" stroke-width="1.89" fill="none" style="stroke:#fff"/>
<path d="M430 442 L500 430" stroke-width="1.89" fill="none" style="stroke:#fff"/>
<path d="M424 482 L494 470" stroke-width="1.89" fill="none" style="stroke:#fff"/>
<path d="M520 200 C550 260 560 360 535 450" stroke-width="1.65" fill="none" style="stroke:#fff"/>
<ellipse cx="238" cy="386" rx="103" ry="146" stroke-width="3" fill="#fff" transform="rotate(-6 238 386)"/>
<ellipse cx="236" cy="390" rx="62" ry="112" stroke-width="2" fill="#fff" transform="rotate(-6 236 390)"/>
<path d="M250 500 C300 480 320 430 322 400" stroke-width="1.77" fill="none" />
</g>
<g transform="translate(255 925) scale(0.11364)">
<path d="M95 235 C100 190 150 160 210 170 C240 180 260 210 262 235 C220 250 180 255 140 262 C110 262 95 250 95 235 Z" stroke-width="2.83" fill="#fff" />
<path d="M140 255 L185 185 M165 250 L205 192" stroke-width="1.77" fill="none" />
<path d="M275 215 C285 160 340 125 390 135 C420 150 440 180 440 195 C400 210 360 215 330 225 C300 230 280 225 275 215 Z" stroke-width="2.83" fill="#fff" />
<path d="M310 218 L355 150 M335 215 L375 155" stroke-width="1.77" fill="none" />
</g>
<path d="M471.5 934.6 L472.2 932.5 L473.1 930.5 L474.0 928.7 L475.0 927.0 L476.1 925.6 L477.3 924.3 L478.6 923.3 L479.9 922.5 L481.3 921.9 L482.7 921.5 L484.1 921.4 L485.6 921.5 L487.0 921.8 L488.5 922.3 L490.0 923.1 L491.4 924.1 L492.9 925.3 L494.2 926.7 L495.6 928.3 L496.8 930.0 L498.1 932.0 L499.2 934.1 L500.3 936.3 L501.2 938.7 L502.1 941.2 L502.9 943.7 L503.5 946.4 L504.1 949.1 L504.5 951.9 L504.9 954.6" stroke-width="8.4"/>
<path d="M471.5 934.6 L472.2 932.5 L473.1 930.5 L474.0 928.7 L475.0 927.0 L476.1 925.6 L477.3 924.3 L478.6 923.3 L479.9 922.5 L481.3 921.9 L482.7 921.5 L484.1 921.4 L485.6 921.5 L487.0 921.8 L488.5 922.3 L490.0 923.1 L491.4 924.1 L492.9 925.3 L494.2 926.7 L495.6 928.3 L496.8 930.0 L498.1 932.0 L499.2 934.1 L500.3 936.3 L501.2 938.7 L502.1 941.2 L502.9 943.7 L503.5 946.4 L504.1 949.1 L504.5 951.9 L504.9 954.6" stroke-width="3.6" style="stroke:#fff"/>
<path d="M504.9 965.6 L504.7 967.9 L504.4 970.2 L503.9 972.4 L503.4 974.5 L502.8 976.5 L502.1 978.3 L501.3 980.1 L500.4 981.7 L499.5 983.1 L498.5 984.4 L497.4 985.5 L496.3 986.5 L495.1 987.3 L493.9 987.9 L492.6 988.3 L491.3 988.6 L490.0 988.6 L488.7 988.5 L487.4 988.2 L486.1 987.7 L484.7 987.0 L483.4 986.1 L482.1 985.1 L480.9 983.9 L479.7 982.5 L478.5 981.0 L477.4 979.4 L476.3 977.6 L475.3 975.7 L474.3 973.6" stroke-width="8.4"/>
<path d="M504.9 965.6 L504.7 967.9 L504.4 970.2 L503.9 972.4 L503.4 974.5 L502.8 976.5 L502.1 978.3 L501.3 980.1 L500.4 981.7 L499.5 983.1 L498.5 984.4 L497.4 985.5 L496.3 986.5 L495.1 987.3 L493.9 987.9 L492.6 988.3 L491.3 988.6 L490.0 988.6 L488.7 988.5 L487.4 988.2 L486.1 987.7 L484.7 987.0 L483.4 986.1 L482.1 985.1 L480.9 983.9 L479.7 982.5 L478.5 981.0 L477.4 979.4 L476.3 977.6 L475.3 975.7 L474.3 973.6" stroke-width="3.6" style="stroke:#fff"/>
<path d="M481.5 987.5 L481.8 992.5 L488.5 992 L488.2 987" stroke-width="2.12" fill="#fff" />
<path d="M435.2 950.9 L435.6 947.7 L436.1 944.7 L436.8 941.8 L437.6 939.2 L438.6 936.8 L439.7 934.6 L440.9 932.7 L442.3 931.1 L443.7 929.7 L445.2 928.7 L446.9 928.1 L448.5 927.7 L450.2 927.7 L451.9 928.1 L453.7 928.7 L455.4 929.7 L457.1 931.0 L458.7 932.7 L460.3 934.6 L461.8 936.7 L463.3 939.1 L464.6 941.8 L465.8 944.6 L466.9 947.7 L467.8 950.8 L468.6 954.1 L469.2 957.4 L469.7 960.8 L470.0 964.3 L470.2 967.7" stroke-width="8.4"/>
<path d="M435.2 950.9 L435.6 947.7 L436.1 944.7 L436.8 941.8 L437.6 939.2 L438.6 936.8 L439.7 934.6 L440.9 932.7 L442.3 931.1 L443.7 929.7 L445.2 928.7 L446.9 928.1 L448.5 927.7 L450.2 927.7 L451.9 928.1 L453.7 928.7 L455.4 929.7 L457.1 931.0 L458.7 932.7 L460.3 934.6 L461.8 936.7 L463.3 939.1 L464.6 941.8 L465.8 944.6 L466.9 947.7 L467.8 950.8 L468.6 954.1 L469.2 957.4 L469.7 960.8 L470.0 964.3 L470.2 967.7" stroke-width="3.6" style="stroke:#fff"/>
<path d="M469.8 975.8 L469.4 978.9 L468.8 981.8 L468.1 984.5 L467.2 987.0 L466.2 989.2 L465.0 991.3 L463.7 993.0 L462.4 994.5 L460.9 995.7 L459.4 996.5 L457.8 997.1 L456.1 997.3 L454.5 997.2 L452.8 996.8 L451.1 996.0 L449.4 995.0 L447.7 993.6 L446.1 992.0 L444.6 990.0 L443.1 987.9 L441.7 985.4 L440.4 982.8 L439.3 980.0 L438.2 977.0 L437.3 973.9 L436.5 970.7 L435.9 967.4 L435.5 964.0 L435.2 960.7 L435.0 957.3" stroke-width="8.4"/>
<path d="M469.8 975.8 L469.4 978.9 L468.8 981.8 L468.1 984.5 L467.2 987.0 L466.2 989.2 L465.0 991.3 L463.7 993.0 L462.4 994.5 L460.9 995.7 L459.4 996.5 L457.8 997.1 L456.1 997.3 L454.5 997.2 L452.8 996.8 L451.1 996.0 L449.4 995.0 L447.7 993.6 L446.1 992.0 L444.6 990.0 L443.1 987.9 L441.7 985.4 L440.4 982.8 L439.3 980.0 L438.2 977.0 L437.3 973.9 L436.5 970.7 L435.9 967.4 L435.5 964.0 L435.2 960.7 L435.0 957.3" stroke-width="3.6" style="stroke:#fff"/>
<path d="M451 997 L451.5 1001.5 L459.5 1000.5 L459 996" stroke-width="2.12" fill="#fff" />
<text x="184.0" y="40.0" font-size="18" textLength="46.0" lengthAdjust="spacingAndGlyphs" style="stroke-width:0.65px">13011</text>
<text x="183.0" y="50.3" font-size="11.8" textLength="33.0" lengthAdjust="spacingAndGlyphs" style="stroke-width:0.42px">RING</text>
<path d="M205.0 52.0 L205.0 61.5" stroke-width="1.6" />
<text x="100.7" y="228.7" font-size="18" textLength="46.0" lengthAdjust="spacingAndGlyphs" style="stroke-width:0.65px">13101</text>
<text x="99.0" y="239.3" font-size="11.8" textLength="47.0" lengthAdjust="spacingAndGlyphs" style="stroke-width:0.42px">PISTON</text>
<path d="M50.0 252.0 L50.0 246.7 L195.0 246.7 L195.0 305.0" stroke-width="1.3" />
<path d="M122.3 240.0 L122.3 272.0" stroke-width="2" />
<text x="29.0" y="267.7" font-size="18" textLength="60.0" lengthAdjust="spacingAndGlyphs" style="stroke-width:0.65px">13101A</text>
<text x="28.0" y="278.7" font-size="11.8" textLength="33.0" lengthAdjust="spacingAndGlyphs" style="stroke-width:0.42px">RING</text>
<path d="M51.7 282.0 L51.7 332.0" stroke-width="1.8" />
<text x="204.0" y="361.7" font-size="18" textLength="46.0" lengthAdjust="spacingAndGlyphs" style="stroke-width:0.65px">13201</text>
<text x="205.0" y="372.0" font-size="11.8" textLength="26.0" lengthAdjust="spacingAndGlyphs" style="stroke-width:0.42px">ROD</text>
<path d="M225.0 374.5 L225.0 385.0" stroke-width="1.6" />
<text x="216.7" y="408.0" font-size="18" textLength="61.3" lengthAdjust="spacingAndGlyphs" style="stroke-width:0.65px">13201A</text>
<text x="216.0" y="418.3" font-size="11.8" textLength="34.0" lengthAdjust="spacingAndGlyphs" style="stroke-width:0.42px">BUSH</text>
<path d="M190.0 408.0 L215.0 408.0" stroke-width="1.3" />
<text x="25.5" y="485.0" font-size="16.5" textLength="14.5" lengthAdjust="spacingAndGlyphs" style="stroke:#000;stroke-width:1.7px">※</text>
<text x="41.7" y="484.7" font-size="20" textLength="11.0" lengthAdjust="spacingAndGlyphs" style="stroke-width:0.72px">2</text>
<text x="59.3" y="484.7" font-size="18" textLength="44.7" lengthAdjust="spacingAndGlyphs" style="stroke-width:0.65px">13041</text>
<text x="58.3" y="495.5" font-size="11.8" textLength="59.0" lengthAdjust="spacingAndGlyphs" style="stroke-width:0.42px">BEARING</text>
<path d="M81.7 497.5 L81.7 528.0" stroke-width="1.6" />
<text x="196.7" y="589.7" font-size="18" textLength="60.0" lengthAdjust="spacingAndGlyphs" style="stroke-width:0.65px">13265A</text>
<text x="194.3" y="600.7" font-size="11.8" textLength="26.4" lengthAdjust="spacingAndGlyphs" style="stroke-width:0.42px">NUT</text>
<path d="M170.0 589.7 L195.0 589.7" stroke-width="1.3" />
<path d="M185.0 484.7 L264.5 484.7 L264.5 588.5 L259.5 588.5" stroke-width="1.3" />
<path d="M264.5 536.3 L274.0 536.3" stroke-width="1.3" />
<text x="277.3" y="537.3" font-size="18" textLength="48.4" lengthAdjust="spacingAndGlyphs" style="stroke-width:0.65px">13265</text>
<text x="276.7" y="547.5" font-size="11.8" textLength="32.3" lengthAdjust="spacingAndGlyphs" style="stroke-width:0.42px">BOLT</text>
<text x="21.0" y="698.0" font-size="18" textLength="5.5" lengthAdjust="spacingAndGlyphs" style="stroke-width:0.65px">(</text>
<text x="71.7" y="697.6" font-size="18" textLength="53.8" lengthAdjust="spacingAndGlyphs" style="stroke-width:0.65px">–8210)</text>
<rect x="21.7" y="702.5" width="158.3" height="153" stroke-width="1.5"/>
<text x="101.7" y="728.7" font-size="18" textLength="60.0" lengthAdjust="spacingAndGlyphs" style="stroke-width:0.65px">13471B</text>
<text x="100.0" y="738.9" font-size="11.8" textLength="55.0" lengthAdjust="spacingAndGlyphs" style="stroke-width:0.42px">WASHER</text>
<path d="M125.0 741.0 L125.0 752.5" stroke-width="1.6" />
<path d="M70.0 793.0 L70.0 816.0" stroke-width="1.6" />
<text x="45.0" y="832.0" font-size="18" textLength="61.0" lengthAdjust="spacingAndGlyphs" style="stroke-width:0.65px">13471C</text>
<text x="45.0" y="842.8" font-size="11.8" textLength="35.0" lengthAdjust="spacingAndGlyphs" style="stroke-width:0.42px">BOLT</text>
<text x="20.7" y="898.3" font-size="18" textLength="59.3" lengthAdjust="spacingAndGlyphs" style="stroke-width:0.65px">13471C</text>
<text x="19.3" y="909.5" font-size="11.8" textLength="34.0" lengthAdjust="spacingAndGlyphs" style="stroke-width:0.42px">BOLT</text>
<path d="M46.7 914.5 L46.7 949.0" stroke-width="1.6" />
<path d="M142.7 994.5 L142.7 1024.0" stroke-width="1.8" />
<text x="116.7" y="1042.0" font-size="18" textLength="46.6" lengthAdjust="spacingAndGlyphs" style="stroke-width:0.65px">13471</text>
<text x="115.0" y="1052.8" font-size="11.8" textLength="50.7" lengthAdjust="spacingAndGlyphs" style="stroke-width:0.42px">PULLEY</text>
<path d="M201.0 953.0 L201.0 992.5" stroke-width="1.6" />
<text x="176.7" y="1010.3" font-size="18" textLength="60.0" lengthAdjust="spacingAndGlyphs" style="stroke-width:0.65px">13566A</text>
<text x="175.7" y="1021.2" font-size="11.8" textLength="41.0" lengthAdjust="spacingAndGlyphs" style="stroke-width:0.42px">GUIDE</text>
<text x="194.3" y="843.7" font-size="18" textLength="56.4" lengthAdjust="spacingAndGlyphs" style="stroke-width:0.65px">13521P</text>
<text x="192.3" y="854.5" font-size="11.8" textLength="52.0" lengthAdjust="spacingAndGlyphs" style="stroke-width:0.42px">PULLEY</text>
<path d="M217.3 857.7 L217.3 886.0" stroke-width="1.6" />
<text x="299.0" y="694.7" font-size="18" textLength="46.0" lengthAdjust="spacingAndGlyphs" style="stroke-width:0.65px">13411</text>
<text x="297.3" y="705.5" font-size="11.8" textLength="91.7" lengthAdjust="spacingAndGlyphs" style="stroke-width:0.42px">CRANKSHAFT</text>
<path d="M321.3 708.0 L321.3 715.3" stroke-width="1.5" />
<path d="M291.3 722.5 L291.3 715.3 L353.3 715.3" stroke-width="1.5" />
<path d="M353.3 715.3 L353.3 831.0" stroke-width="2.1" />
<text x="236.0" y="739.5" font-size="16.5" textLength="16.5" lengthAdjust="spacingAndGlyphs" style="stroke:#000;stroke-width:1.7px">※</text>
<text x="254.0" y="739.0" font-size="20" textLength="9.0" lengthAdjust="spacingAndGlyphs" style="stroke-width:0.72px">1</text>
<text x="270.0" y="739.0" font-size="18" textLength="46.7" lengthAdjust="spacingAndGlyphs" style="stroke-width:0.65px">13519</text>
<text x="269.0" y="749.5" font-size="11.8" textLength="36.7" lengthAdjust="spacingAndGlyphs" style="stroke-width:0.42px">GEAR</text>
<path d="M290.7 751.5 L290.7 777.5" stroke-width="1.6" />
<path d="M303.0 822.0 L303.0 878.0" stroke-width="2.3" stroke-dasharray="6 2.5" style="stroke-linecap:butt"/>
<text x="339.0" y="965.3" font-size="18" textLength="60.7" lengthAdjust="spacingAndGlyphs" style="stroke-width:0.65px">13521A</text>
<text x="338.0" y="976.2" font-size="11.8" textLength="26.0" lengthAdjust="spacingAndGlyphs" style="stroke-width:0.42px">KEY</text>
<path d="M297.3 949.3 L305.7 961.7 L335.7 961.7" stroke-width="1.2" />
<text x="253.3" y="1001.7" font-size="18" textLength="60.0" lengthAdjust="spacingAndGlyphs" style="stroke-width:0.65px">13471A</text>
<text x="252.3" y="1012.9" font-size="11.8" textLength="26.7" lengthAdjust="spacingAndGlyphs" style="stroke-width:0.42px">KEY</text>
<path d="M277.3 953.0 L277.3 986.0" stroke-width="1.6" />
<text x="445.7" y="1032.7" font-size="18" textLength="46.6" lengthAdjust="spacingAndGlyphs" style="stroke-width:0.65px">11011</text>
<text x="443.0" y="1043.5" font-size="11.8" textLength="56.0" lengthAdjust="spacingAndGlyphs" style="stroke-width:0.42px">WASHER</text>
<path d="M430.7 947.7 L416.7 954.3 L416.7 1012.7 L524.0 1012.7 L524.0 976.0 L504.7 954.3" stroke-width="1.3" />
<path d="M455.7 1012.7 L455.7 999.3" stroke-width="1.3" />
<path d="M485.7 1012.7 L485.7 992.7" stroke-width="1.3" />
<path d="M470.7 1012.7 L470.7 1016.5" stroke-width="1.5" />
<text x="584.7" y="950.3" font-size="16.5" textLength="16.0" lengthAdjust="spacingAndGlyphs" style="stroke:#000;stroke-width:1.7px">※</text>
<text x="603.5" y="949.5" font-size="20" textLength="9.0" lengthAdjust="spacingAndGlyphs" style="stroke-width:0.72px">1</text>
<text x="617.0" y="950.5" font-size="18" textLength="5.5" lengthAdjust="spacingAndGlyphs" style="stroke-width:0.65px">(</text>
<text x="661.3" y="949.7" font-size="18" textLength="60.0" lengthAdjust="spacingAndGlyphs" style="stroke-width:0.65px">–8202)</text>
<text x="584.7" y="969.5" font-size="16.5" textLength="16.0" lengthAdjust="spacingAndGlyphs" style="stroke:#000;stroke-width:1.7px">※</text>
<text x="604.0" y="968.7" font-size="20" textLength="10.0" lengthAdjust="spacingAndGlyphs" style="stroke-width:0.72px">2</text>
<text x="617.0" y="969.2" font-size="18" textLength="58.0" lengthAdjust="spacingAndGlyphs" style="stroke-width:0.65px">(8202–</text>
<text x="715.3" y="969.5" font-size="18" textLength="5.7" lengthAdjust="spacingAndGlyphs" style="stroke-width:0.65px">)</text>
<path d="M579.7 976.7 L724.0 973.3" stroke-width="2" />
<text x="684.0" y="1062.0" font-size="13.5" textLength="24.0" lengthAdjust="spacingAndGlyphs" style="stroke-width:0.49px">MA</text>
<text x="718.7" y="1062.0" font-size="13.5" textLength="48.6" lengthAdjust="spacingAndGlyphs" style="stroke-width:0.49px">3739-G</text>
<text x="464.0" y="661.3" font-size="18" textLength="48.3" lengthAdjust="spacingAndGlyphs" style="stroke-width:0.65px">13453</text>
<text x="463.0" y="672.2" font-size="11.8" textLength="36.0" lengthAdjust="spacingAndGlyphs" style="stroke-width:0.42px">GEAR</text>
<path d="M487.3 631.5 L487.3 646.3" stroke-width="1.6" />
<path d="M486.7 673.5 L486.7 677.0 L733.0 676.5 L733.0 669.7" stroke-width="1.3" />
<path d="M586.3 616.3 L586.3 676.5" stroke-width="2" />
<path d="M653.0 668.0 L653.0 676.5" stroke-width="1.3" />
<text x="586.3" y="697.0" font-size="18" textLength="47.7" lengthAdjust="spacingAndGlyphs" style="stroke-width:0.65px">13405</text>
<text x="585.3" y="707.5" font-size="11.8" textLength="71.0" lengthAdjust="spacingAndGlyphs" style="stroke-width:0.42px">FLYWHEEL</text>
<text x="629.7" y="655.3" font-size="18" textLength="61.0" lengthAdjust="spacingAndGlyphs" style="stroke-width:0.65px">13405A</text>
<text x="629.0" y="666.5" font-size="11.8" textLength="20.7" lengthAdjust="spacingAndGlyphs" style="stroke-width:0.42px">PIN</text>
<text x="709.0" y="655.3" font-size="18" textLength="59.0" lengthAdjust="spacingAndGlyphs" style="stroke-width:0.65px">13405B</text>
<text x="708.0" y="666.5" font-size="11.8" textLength="33.3" lengthAdjust="spacingAndGlyphs" style="stroke-width:0.42px">BOLT</text>
<path d="M653.0 559.0 L653.0 639.7" stroke-width="1.5" />
<path d="M732.0 480.0 L732.0 639.7" stroke-width="1.5" />
<text x="635.7" y="407.3" font-size="16.5" textLength="62.3" lengthAdjust="spacingAndGlyphs" style="stroke-width:0.59px">Refer to</text>
<text x="634.7" y="424.0" font-size="16.5" textLength="83.3" lengthAdjust="spacingAndGlyphs" style="stroke-width:0.59px">FIG. 31-01</text>
<path d="M673.0 430.0 L673.0 449.5" stroke-width="1.6" />
<path d="M699.7 702.3 L708.0 702.3" stroke-width="1.3" />
<path d="M708.0 702.3 L708.0 801.0" stroke-width="2" stroke-dasharray="7.5 3.5" style="stroke-linecap:butt"/>
<path d="M708.0 801.0 L681.3 807.7" stroke-width="1.2" />
<path d="M449.0 511.3 L393.3 521.3" stroke-width="1.5" stroke-dasharray="8 4" />
<path d="M393.3 521.3 L393.3 769.3" stroke-width="2" stroke-dasharray="8 4" style="stroke-linecap:butt"/>
<path d="M393.3 769.3 L405.7 768.5" stroke-width="1.2" />
<text x="534.0" y="49.3" font-size="18" textLength="50.7" lengthAdjust="spacingAndGlyphs" style="stroke-width:0.65px">11702-</text>
<text x="532.0" y="60.9" font-size="11.8" textLength="58.7" lengthAdjust="spacingAndGlyphs" style="stroke-width:0.42px">BEARING</text>
<path d="M438.0 137.0 L438.0 66.7 L672.0 66.7 L672.0 88.3" stroke-width="1.7" />
<path d="M493.3 66.7 L493.3 125.0" stroke-width="1.7" />
<path d="M555.3 61.0 L555.3 111.7" stroke-width="1.7" />
<path d="M611.3 66.7 L611.3 100.0" stroke-width="1.7" />
<text x="389.0" y="314.0" font-size="18" textLength="48.3" lengthAdjust="spacingAndGlyphs" style="stroke-width:0.65px">13202</text>
<text x="389.0" y="325.2" font-size="11.8" textLength="58.3" lengthAdjust="spacingAndGlyphs" style="stroke-width:0.42px">BEARING</text>
<path d="M449.0 314.3 L454.4 314.3" stroke-width="1.2" />
<text x="468.0" y="313.5" font-size="16.5" textLength="14.3" lengthAdjust="spacingAndGlyphs" style="stroke:#000;stroke-width:1.7px">※</text>
<text x="485.7" y="313.3" font-size="20" textLength="10.0" lengthAdjust="spacingAndGlyphs" style="stroke-width:0.72px">2</text>
<text x="477.3" y="331.7" font-size="18" textLength="46.7" lengthAdjust="spacingAndGlyphs" style="stroke-width:0.65px">13041</text>
<text x="476.3" y="342.9" font-size="11.8" textLength="58.4" lengthAdjust="spacingAndGlyphs" style="stroke-width:0.42px">BEARING</text>
<path d="M500.7 288.3 L500.7 315.0" stroke-width="1.5" />
<text x="502.7" y="304.5" font-size="16.5" textLength="14.3" lengthAdjust="spacingAndGlyphs" style="stroke:#000;stroke-width:1.7px">※</text>
<text x="521.0" y="304.0" font-size="20" textLength="10.0" lengthAdjust="spacingAndGlyphs" style="stroke-width:0.72px">2</text>
<text x="537.3" y="302.3" font-size="18" textLength="44.0" lengthAdjust="spacingAndGlyphs" style="stroke-width:0.65px">13041</text>
<text x="535.3" y="313.5" font-size="11.8" textLength="59.4" lengthAdjust="spacingAndGlyphs" style="stroke-width:0.42px">BEARING</text>
<path d="M560.3 273.3 L560.3 286.7" stroke-width="1.5" />
<text x="592.0" y="295.0" font-size="16.5" textLength="15.0" lengthAdjust="spacingAndGlyphs" style="stroke:#000;stroke-width:1.7px">※</text>
<text x="609.7" y="295.0" font-size="20" textLength="11.0" lengthAdjust="spacingAndGlyphs" style="stroke-width:0.72px">2</text>
<text x="601.3" y="312.3" font-size="18" textLength="46.0" lengthAdjust="spacingAndGlyphs" style="stroke-width:0.65px">13041</text>
<text x="600.7" y="323.5" font-size="11.8" textLength="59.6" lengthAdjust="spacingAndGlyphs" style="stroke-width:0.42px">BEARING</text>
<path d="M618.0 260.0 L626.3 268.3 L626.3 295.0" stroke-width="1.3" />
<text x="689.7" y="257.5" font-size="16.5" textLength="15.0" lengthAdjust="spacingAndGlyphs" style="stroke:#000;stroke-width:1.7px">※</text>
<text x="708.0" y="257.3" font-size="20" textLength="10.7" lengthAdjust="spacingAndGlyphs" style="stroke-width:0.72px">2</text>
<text x="657.3" y="274.0" font-size="18" textLength="45.7" lengthAdjust="spacingAndGlyphs" style="stroke-width:0.65px">13041</text>
<text x="656.3" y="285.2" font-size="11.8" textLength="60.0" lengthAdjust="spacingAndGlyphs" style="stroke-width:0.42px">BEARING</text>
<path d="M680.3 250.0 L680.3 258.5" stroke-width="1.5" />
</svg>
</body></html>
